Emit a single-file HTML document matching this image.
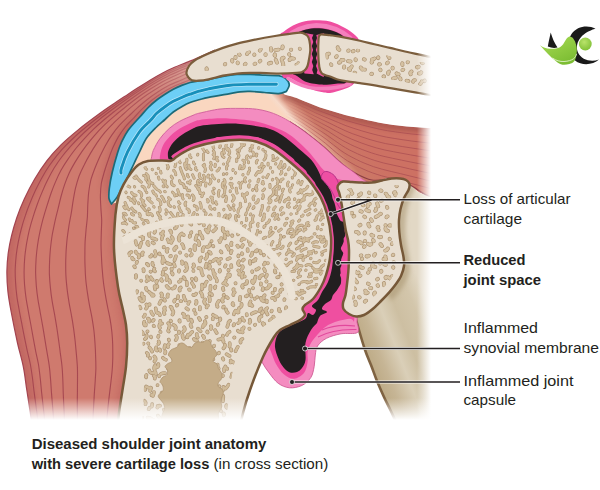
<!DOCTYPE html>
<html><head><meta charset="utf-8"><title>Diseased shoulder joint anatomy</title>
<style>html,body{margin:0;padding:0;background:#fff}svg{display:block}</style></head>
<body><svg width="600" height="490" viewBox="0 0 600 490">
<defs>
<linearGradient id="gDel" gradientUnits="userSpaceOnUse" x1="200" y1="60" x2="120" y2="120">
<stop offset="0" stop-color="#efcabe"/><stop offset="0.3" stop-color="#e2aa9d"/><stop offset="0.65" stop-color="#d68a7e"/><stop offset="1" stop-color="#cf7a6e"/></linearGradient>
<linearGradient id="gDStr" gradientUnits="userSpaceOnUse" x1="195" y1="62" x2="110" y2="130">
<stop offset="0" stop-color="#a3434e" stop-opacity="0.3"/><stop offset="1" stop-color="#a3434e" stop-opacity="0.9"/></linearGradient>
<linearGradient id="gSup" gradientUnits="userSpaceOnUse" x1="262" y1="118" x2="307" y2="78.4">
<stop offset="0" stop-color="#fad7c0"/><stop offset="0.29" stop-color="#fad7c0"/><stop offset="0.37" stop-color="#f7dbca"/><stop offset="0.47" stop-color="#e0a18d"/><stop offset="0.62" stop-color="#cb7866"/><stop offset="1" stop-color="#cd7163"/></linearGradient>
<linearGradient id="gStr" gradientUnits="userSpaceOnUse" x1="285" y1="0" x2="330" y2="0">
<stop offset="0" stop-color="#a5484f" stop-opacity="0"/><stop offset="1" stop-color="#a5484f" stop-opacity="0.7"/></linearGradient>
<linearGradient id="gScap" gradientUnits="userSpaceOnUse" x1="362" y1="352" x2="436" y2="323">
<stop offset="0" stop-color="#bba882"/><stop offset="0.2" stop-color="#c6b595"/><stop offset="0.42" stop-color="#dacfb8"/><stop offset="0.6" stop-color="#cdbfa2"/><stop offset="0.82" stop-color="#d3c6ab"/><stop offset="1" stop-color="#e2d8c5"/></linearGradient>
<linearGradient id="gFadeR" gradientUnits="userSpaceOnUse" x1="417" y1="0" x2="431" y2="0">
<stop offset="0" stop-color="#fff" stop-opacity="0"/><stop offset="1" stop-color="#fff" stop-opacity="1"/></linearGradient>
<linearGradient id="gFadeB" gradientUnits="userSpaceOnUse" x1="0" y1="398" x2="0" y2="420">
<stop offset="0" stop-color="#fff" stop-opacity="0"/><stop offset="1" stop-color="#fff" stop-opacity="1"/></linearGradient>
<radialGradient id="gBall" cx="0.42" cy="0.35" r="0.7"><stop offset="0" stop-color="#b9e36a"/><stop offset="1" stop-color="#7fbf35"/></radialGradient>
<linearGradient id="gLeaf" x1="0" y1="0" x2="0.6" y2="1"><stop offset="0" stop-color="#a9dc55"/><stop offset="1" stop-color="#7cbd33"/></linearGradient>
<filter id="bl4" x="-20%" y="-20%" width="140%" height="140%"><feGaussianBlur stdDeviation="4"/></filter>
<filter id="bl2" x="-20%" y="-20%" width="140%" height="140%"><feGaussianBlur stdDeviation="2"/></filter>
<clipPath id="cDel"><path d="M215.0 50.0C211.9 51.4 201.2 56.3 196.5 58.4C191.8 60.5 190.4 60.9 186.7 62.4C183.0 63.9 178.6 65.5 174.5 67.3C170.4 69.1 166.3 71.0 162.2 73.2C158.1 75.4 154.2 77.6 150.0 80.2C145.8 82.8 140.9 85.9 136.7 88.6C132.4 91.3 128.6 93.9 124.5 96.6C120.4 99.3 116.3 102.0 112.2 104.8C108.1 107.6 105.6 109.2 100.0 113.3C94.4 117.4 85.0 124.3 78.5 129.6C72.0 134.9 66.2 139.7 61.0 144.9C55.8 150.1 51.4 154.9 47.0 160.6C42.6 166.3 38.5 172.6 34.7 179.0C30.9 185.4 27.3 192.5 24.3 199.0C21.3 205.5 18.8 211.8 16.7 218.0C14.6 224.2 12.9 230.2 11.5 236.0C10.1 241.8 9.1 246.9 8.3 252.7C7.5 258.5 7.0 264.6 6.9 271.0C6.8 277.4 7.2 284.6 7.9 291.4C8.6 298.2 9.6 303.4 11.2 312.0C12.8 320.6 15.5 333.9 17.5 343.0C19.5 352.1 21.8 358.9 23.3 366.7C24.9 374.5 25.6 382.3 26.8 390.0C28.0 397.7 29.3 406.0 30.3 413.0C31.3 420.0 32.5 428.8 33.0 432.0L122.0 432.0C122.3 428.8 123.2 420.0 124.0 413.0C124.8 406.0 125.8 397.7 127.0 390.0C128.2 382.3 130.2 374.5 131.0 366.7C131.8 358.9 132.0 349.9 132.0 343.0C132.0 336.1 131.7 330.5 131.0 325.0C130.3 319.5 129.2 317.0 128.0 310.0C126.8 303.0 125.3 293.5 124.0 283.0C122.7 272.5 120.5 256.7 120.0 247.0C119.5 237.3 121.2 232.8 121.0 225.0C120.8 217.2 120.5 206.1 119.0 200.0C117.5 193.9 113.1 193.2 112.0 188.5C110.9 183.8 111.4 177.9 112.3 172.0C113.2 166.1 116.0 157.9 117.5 153.0C119.0 148.1 119.7 146.2 121.4 142.5C123.2 138.8 124.9 134.8 128.0 130.5C131.1 126.2 136.6 120.5 140.0 116.7C143.4 112.9 145.5 110.3 148.3 107.5C151.1 104.7 153.9 102.2 156.7 100.0C159.5 97.8 162.2 96.0 165.0 94.2C167.8 92.4 170.5 90.7 173.3 89.2C176.1 87.7 178.9 86.5 181.7 85.4C184.5 84.3 185.3 84.2 190.0 82.5C194.7 80.8 202.5 77.1 210.0 75.0C217.5 72.9 230.8 70.8 235.0 70.0Z"/></clipPath>
<clipPath id="cSup"><path d="M111.5 204.0C112.5 202.8 114.8 200.8 117.4 196.6C120.0 192.3 124.3 183.9 127.0 178.5C129.7 173.1 131.6 168.6 133.8 164.0C136.0 159.4 137.9 155.3 140.0 151.0C142.1 146.7 143.9 141.9 146.6 138.0C149.3 134.1 152.9 130.6 156.0 127.5C159.1 124.4 162.1 122.1 165.0 119.5C167.9 116.9 170.5 114.1 173.3 112.0C176.1 109.9 178.9 108.3 181.7 106.7C184.5 105.1 186.9 103.8 190.0 102.5C193.1 101.2 193.3 101.1 200.0 99.0C206.7 96.9 221.7 91.8 230.0 90.0C238.3 88.2 241.7 88.0 250.0 88.0C258.3 88.0 274.3 89.0 280.0 90.0C285.7 91.0 282.3 93.2 284.3 94.3C286.3 95.4 289.4 95.7 292.0 96.6C294.6 97.5 297.0 98.3 300.0 99.5C303.0 100.7 306.7 102.2 310.0 103.5C313.3 104.8 316.7 106.3 320.0 107.5C323.3 108.7 326.7 109.5 330.0 110.5C333.3 111.5 336.7 112.5 340.0 113.5C343.3 114.5 346.7 115.4 350.0 116.2C353.3 117.0 355.8 117.6 360.0 118.5C364.2 119.4 370.6 120.9 375.0 121.8C379.4 122.7 382.5 123.3 386.7 124.0C390.9 124.7 395.6 125.3 400.0 125.8C404.4 126.3 408.7 126.7 413.3 127.1C417.9 127.5 422.2 127.7 427.5 128.0C432.8 128.3 442.1 128.6 445.0 128.7L445.0 200.0C442.1 199.2 431.9 196.7 427.5 195.4C423.1 194.1 421.5 193.9 418.5 192.0C415.5 190.1 411.8 186.2 409.5 184.0C407.2 181.8 408.0 180.0 405.0 179.0C402.0 178.0 395.8 177.8 391.6 178.0C387.4 178.2 383.8 179.2 380.0 180.0C376.2 180.8 372.0 183.2 369.0 183.0C366.0 182.8 364.6 180.8 362.0 179.0C359.4 177.2 357.2 174.8 353.5 172.0C349.8 169.2 345.0 166.2 340.0 162.0C335.0 157.8 329.1 151.6 323.6 146.8C318.1 142.0 312.6 137.6 307.0 133.4C301.4 129.2 295.6 125.0 290.0 121.7C284.4 118.4 278.9 115.5 273.4 113.4C267.8 111.3 262.3 110.0 256.7 109.2C251.1 108.4 246.1 108.4 240.0 108.4C233.9 108.4 226.7 108.2 220.0 109.0C213.3 109.8 204.5 112.0 200.0 113.0C195.5 114.0 196.4 113.9 193.0 115.3C189.6 116.7 183.8 119.0 179.8 121.2C175.8 123.4 172.5 125.6 169.2 128.5C165.9 131.4 162.7 134.8 160.0 138.5C157.3 142.2 154.8 146.8 153.3 150.4C151.8 154.0 152.4 155.9 151.0 160.0C149.6 164.1 148.5 168.3 145.0 175.0C141.5 181.7 132.5 195.8 130.0 200.0Z"/></clipPath>
<clipPath id="cHum"><path d="M173.6 159.4C174.1 159.0 174.7 158.1 176.6 156.8C178.5 155.5 181.7 153.3 184.8 151.7C187.9 150.1 189.5 148.7 195.0 147.0C200.5 145.3 210.5 142.7 218.0 141.5C225.5 140.3 233.6 139.8 240.0 139.8C246.4 139.9 251.1 140.2 256.7 141.8C262.3 143.4 267.8 145.9 273.4 149.3C278.9 152.7 285.0 157.9 290.0 162.0C295.0 166.1 299.8 170.3 303.5 174.0C307.2 177.7 309.1 180.0 312.0 184.0C314.9 188.0 318.5 193.0 321.0 198.0C323.5 203.0 325.3 207.5 327.0 214.0C328.7 220.5 330.5 229.7 331.0 237.0C331.5 244.3 330.8 251.7 330.0 258.0C329.2 264.3 327.5 270.2 326.0 275.0C324.5 279.8 323.2 283.0 321.0 287.0C318.8 291.0 315.7 296.0 313.0 299.0C310.3 302.0 306.8 303.3 305.0 305.0C303.2 306.7 302.5 307.3 302.5 309.0C302.5 310.7 305.4 313.2 305.0 315.0C304.6 316.8 302.5 318.3 300.0 320.0C297.5 321.7 293.3 323.3 290.0 325.0C286.7 326.7 282.7 328.0 280.0 330.0C277.3 332.0 276.8 332.5 274.0 337.0C271.2 341.5 267.0 348.2 263.0 357.0C259.0 365.8 253.3 380.7 250.0 390.0C246.7 399.3 244.8 406.0 243.0 413.0C241.2 420.0 239.7 428.8 239.0 432.0L117 432C117.3 428.8 118.1 420.0 119.0 413.0C119.9 406.0 121.3 397.7 122.5 390.0C123.7 382.3 125.2 374.5 126.0 366.7C126.8 358.9 127.2 349.9 127.2 343.0C127.2 336.1 126.7 330.5 126.0 325.0C125.3 319.5 124.3 316.3 123.0 310.0C121.7 303.7 119.5 297.2 118.0 287.0C116.5 276.8 114.4 260.6 114.0 248.6C113.6 236.6 114.7 223.7 115.4 215.0C116.2 206.3 117.1 201.7 118.5 196.6C119.9 191.5 121.4 188.5 123.6 184.4C125.8 180.3 129.1 175.3 131.7 172.0C134.2 168.7 136.2 166.3 138.9 164.5C141.6 162.7 144.1 161.7 148.0 161.0C151.9 160.3 158.6 160.5 162.3 160.5C166.0 160.5 168.1 161.2 170.0 161.0C171.9 160.8 173.0 159.7 173.6 159.4Z"/></clipPath>
<clipPath id="cSpg"><path d="M176.0 163.0C179.2 160.9 188.0 153.5 195.0 150.5C202.0 147.5 210.5 146.2 218.0 145.0C225.5 143.8 233.7 143.2 240.0 143.3C246.3 143.4 250.7 143.8 256.0 145.3C261.3 146.8 266.7 149.2 272.0 152.5C277.3 155.8 283.2 161.0 288.0 165.0C292.8 169.0 297.4 173.0 301.0 176.5C304.6 180.0 306.7 182.2 309.5 186.0C312.3 189.8 315.6 194.7 318.0 199.5C320.4 204.3 322.4 208.8 324.0 215.0C325.6 221.2 327.1 229.8 327.5 237.0C327.9 244.2 327.3 251.8 326.5 258.0C325.7 264.2 323.9 269.5 322.5 274.0C321.1 278.5 319.9 281.5 318.0 285.0C316.1 288.5 314.0 292.2 311.0 295.0C308.0 297.8 303.5 300.0 300.0 302.0C296.5 304.0 294.2 304.3 290.0 307.0C285.8 309.7 280.0 314.3 275.0 318.0C270.0 321.7 264.5 325.7 260.0 329.0C255.5 332.3 251.3 335.0 248.0 338.0C244.7 341.0 242.2 343.3 240.0 347.0C237.8 350.7 236.5 354.5 235.0 360.0C233.5 365.5 232.2 373.3 231.0 380.0C229.8 386.7 228.8 391.3 228.0 400.0C227.2 408.7 226.3 426.7 226.0 432.0L140 432C140.5 428.8 142.3 421.7 143.0 413.0C143.7 404.3 144.0 390.5 144.0 380.0C144.0 369.5 143.5 360.0 143.0 350.0C142.5 340.0 142.2 329.5 141.0 320.0C139.8 310.5 137.8 302.7 136.0 293.0C134.2 283.3 132.0 270.0 130.0 262.0C128.0 254.0 125.8 251.2 124.0 245.0C122.2 238.8 119.6 231.7 119.0 225.0C118.4 218.3 119.5 210.8 120.5 205.0C121.5 199.2 122.9 194.8 125.0 190.0C127.1 185.2 130.3 180.1 133.0 176.5C135.7 172.9 138.2 170.4 141.0 168.5C143.8 166.6 146.3 165.7 150.0 165.0C153.7 164.3 158.7 164.8 163.0 164.5C167.3 164.2 173.8 163.2 176.0 163.0Z"/></clipPath>
<clipPath id="cAcr"><path d="M200.0 69.5C199.5 68.2 206.2 65.6 212.0 63.0C217.8 60.4 227.8 56.2 235.0 54.0C242.2 51.8 247.5 51.1 255.0 49.5C262.5 47.9 273.2 45.7 280.0 44.5C286.8 43.3 292.5 42.4 296.0 42.5C299.5 42.6 300.0 43.1 301.0 45.0C302.0 46.9 302.2 51.2 302.0 54.0C301.8 56.8 301.2 60.1 300.0 62.0C298.8 63.9 298.3 64.8 295.0 65.5C291.7 66.2 286.7 65.9 280.0 66.0C273.3 66.1 262.5 65.9 255.0 66.0C247.5 66.1 241.7 65.8 235.0 66.5C228.3 67.2 220.8 70.0 215.0 70.5C209.2 71.0 200.5 70.8 200.0 69.5Z"/></clipPath>
<clipPath id="cClv"><path d="M326.0 44.0C327.6 42.1 331.0 43.0 335.0 43.5C339.0 44.0 342.5 45.2 350.0 47.0C357.5 48.8 370.8 51.8 380.0 54.0C389.2 56.2 396.7 58.1 405.0 60.0C413.3 61.9 425.8 61.2 430.0 65.5C434.2 69.8 434.2 83.2 430.0 86.0C425.8 88.8 413.3 83.4 405.0 82.0C396.7 80.6 389.2 79.2 380.0 77.5C370.8 75.8 357.5 73.5 350.0 72.0C342.5 70.5 338.7 69.7 335.0 68.5C331.3 67.3 329.6 67.2 328.0 65.0C326.4 62.8 325.8 58.5 325.5 55.0C325.2 51.5 324.4 45.9 326.0 44.0Z"/></clipPath>
<clipPath id="cGln"><path d="M344.0 193.0C344.4 191.1 346.0 189.2 349.0 188.5C352.0 187.8 356.8 189.2 362.0 189.0C367.2 188.8 374.5 187.7 380.0 187.0C385.5 186.3 391.7 184.9 395.0 185.0C398.3 185.1 399.8 185.3 400.0 187.5C400.2 189.7 397.2 194.2 396.0 198.0C394.8 201.8 393.2 205.5 392.5 210.0C391.8 214.5 391.5 220.0 391.5 225.0C391.5 230.0 391.8 234.7 392.5 240.0C393.2 245.3 395.4 252.3 396.0 257.0C396.6 261.7 396.8 264.3 396.0 268.0C395.2 271.7 393.3 275.5 391.0 279.0C388.7 282.5 385.2 285.8 382.0 289.0C378.8 292.2 375.2 295.2 372.0 298.0C368.8 300.8 365.8 304.2 363.0 306.0C360.2 307.8 357.0 308.7 355.0 308.5C353.0 308.3 351.2 307.6 351.0 305.0C350.8 302.4 352.8 297.2 353.5 293.0C354.2 288.8 354.6 284.7 355.0 280.0C355.4 275.3 355.9 270.8 356.0 265.0C356.1 259.2 356.0 251.2 355.5 245.0C355.0 238.8 353.9 233.5 353.0 228.0C352.1 222.5 351.1 216.7 350.0 212.0C348.9 207.3 347.5 203.2 346.5 200.0C345.5 196.8 343.6 194.9 344.0 193.0Z"/></clipPath>
<clipPath id="cCap"><path d="M150.5 161.0C150.6 160.6 150.8 160.2 151.3 158.4C151.8 156.6 151.9 153.7 153.3 150.4C154.8 147.1 157.3 142.2 160.0 138.5C162.7 134.8 165.9 131.4 169.2 128.5C172.5 125.6 175.8 123.4 179.8 121.2C183.8 119.0 189.6 116.7 193.0 115.3C196.4 113.9 195.5 114.0 200.0 113.0C204.5 112.0 213.3 109.8 220.0 109.0C226.7 108.2 233.9 108.4 240.0 108.4C246.1 108.4 251.1 108.4 256.7 109.2C262.3 110.0 267.8 111.3 273.4 113.4C278.9 115.5 284.4 118.4 290.0 121.7C295.6 125.0 301.4 129.2 307.0 133.4C312.6 137.6 318.1 142.0 323.6 146.8C329.1 151.6 335.0 157.8 340.0 162.0C345.0 166.2 349.8 169.2 353.5 172.0C357.2 174.8 358.9 177.0 362.0 179.0C365.1 181.0 370.3 183.2 372.0 184.0L372 200L358 300L357 322C357.1 323.8 360.2 330.5 357.5 332.5C354.8 334.5 346.2 332.8 341.0 333.8C335.8 334.8 330.4 336.3 326.5 338.3C322.6 340.3 319.4 343.2 317.5 346.0C315.6 348.8 315.9 351.6 315.3 355.0C314.8 358.4 314.9 362.6 314.2 366.4C313.4 370.2 312.9 374.4 310.8 377.6C308.7 380.8 305.4 383.8 301.8 385.5C298.2 387.2 293.3 388.2 289.4 387.8C285.5 387.4 281.6 385.8 278.2 383.3C274.8 380.8 271.8 376.4 269.2 373.0C266.6 369.6 264.4 366.5 262.5 363.0C260.6 359.5 258.8 353.8 258.0 352.0L275 330L200 250L155 165Z"/></clipPath>
<path id="bH" d="M202.7 148.4 q0.2 -0.4 -0.2 -0.5M213.7 148.2 q-1.2 -1.3 -0.2 -2.9M219.7 147.3 q1.5 -1.3 0.1 -2.7M227.4 150.1 q-2.2 -2.4 -1.2 -5.5M231.4 146.5 q0.8 -1.4 0.4 -2.9M240.1 148.5 q3.5 -2.7 0.8 -6.1M243.8 145.5 q1.3 -1.1 0.4 -2.6M252.2 147.9 q-1.1 -3.0 1.8 -4.5M258.6 148.3 q-0.0 -0.4 0.2 -0.7M204.5 151.4 q-0.9 -1.8 -2.1 -3.3M208.0 152.5 q-1.1 -0.6 -1.1 -1.8M214.3 154.9 q0.7 -2.3 -0.9 -4.0M224.3 153.2 q-0.7 -1.9 -1.0 -4.0M228.9 154.4 q2.0 -3.5 -1.1 -6.1M237.2 150.3 q-0.1 -0.1 -0.1 -0.2M239.3 151.1 q0.5 -1.1 -0.3 -1.9M250.0 150.8 q1.3 -1.0 0.2 -2.3M253.5 155.6 q1.5 -2.1 -0.7 -3.5M263.0 149.9 q0.1 -0.2 -0.0 -0.4M265.2 152.0 q0.1 -0.2 0.2 -0.4M190.9 157.6 q-1.6 -1.0 -1.1 -2.8M197.6 155.0 q0.1 -0.3 0.2 -0.7M203.5 159.9 q-0.1 -2.8 -0.0 -5.6M213.7 158.7 q1.9 -2.3 -0.5 -4.1M217.7 160.8 q-2.0 -1.5 -0.5 -3.5M223.9 157.4 q-2.8 -1.7 -1.9 -4.9M228.8 160.4 q-0.1 -1.6 1.0 -2.8M238.3 157.3 q1.5 -2.2 -0.7 -3.7M246.9 159.0 q-1.4 -1.9 0.6 -3.1M250.5 157.3 q0.0 -0.4 0.4 -0.3M256.5 155.9 q-0.4 -0.9 0.3 -1.7M264.1 159.9 q2.1 -2.1 1.8 -5.0M273.1 157.8 q0.3 -1.2 -0.1 -2.3M272.7 160.4 q3.4 -0.1 5.3 -2.8M168.4 167.3 q-1.6 -2.9 -1.6 -6.2M175.0 166.6 q1.1 -2.6 0.6 -5.3M180.2 162.6 q-2.0 -1.0 -0.9 -2.9M185.8 164.1 q1.4 -2.2 1.0 -4.8M194.6 164.0 q-1.2 -0.6 -1.1 -1.9M204.4 166.1 q0.5 -0.9 -0.1 -1.7M210.9 163.0 q-0.3 -0.3 -0.1 -0.6M215.0 166.5 q0.2 -1.1 0.3 -2.2M223.6 164.1 q0.0 -0.1 0.0 -0.2M227.3 162.8 q0.3 -1.2 1.4 -1.8M236.5 161.4 q0.6 -1.0 0.2 -2.2M244.2 163.4 q1.1 -2.3 -1.3 -3.2M248.5 162.6 q-0.2 -0.4 -0.0 -0.8M256.4 163.0 q-0.4 -1.7 1.0 -2.7M259.1 167.2 q3.2 -0.5 2.9 -3.7M268.1 165.0 q-0.1 -0.9 -0.0 -1.8M275.6 164.0 q0.0 -0.3 0.2 -0.5M278.4 167.0 q2.5 -2.3 3.0 -5.6M146.6 169.3 q-1.8 -0.6 -1.6 -2.5M152.4 169.6 q-0.2 -0.1 -0.2 -0.4M158.4 168.5 q0.1 -0.1 0.0 -0.2M167.7 168.8 q0.1 -0.3 -0.2 -0.4M173.9 170.9 q0.1 -0.3 -0.1 -0.6M181.8 172.1 q-1.0 -2.2 -1.6 -4.5M186.3 169.3 q-2.0 -2.7 -1.4 -6.0M190.9 169.5 q-2.8 -1.3 -2.0 -4.3M196.8 170.1 q-1.9 -0.6 -1.1 -2.4M204.9 171.5 q1.7 -3.8 -1.7 -6.1M211.7 169.8 q-2.8 -2.3 -0.3 -5.0M217.1 171.0 q1.7 -1.0 2.3 -2.8M226.6 169.0 q-0.6 -2.1 1.0 -3.5M233.0 170.4 q-0.1 -0.5 0.1 -0.9M239.5 168.8 q0.3 -1.5 0.7 -3.0M242.0 168.7 q2.5 -0.4 2.1 -3.0M249.4 168.3 q0.0 -0.1 0.1 -0.2M257.8 172.1 q3.5 0.8 4.4 -2.7M263.0 167.7 q0.4 -0.8 1.2 -1.3M270.4 168.0 q-0.0 -0.2 0.1 -0.4M279.2 168.1 q1.9 -0.7 1.9 -2.8M283.2 168.1 q2.4 -1.1 1.5 -3.6M288.4 169.6 q1.8 -1.0 1.8 -3.1M137.0 177.5 q-0.6 -0.7 -1.0 -1.4M146.0 178.2 q0.1 -2.5 -2.4 -2.8M148.3 178.4 q0.4 -3.0 -2.0 -4.8M156.3 173.7 q-0.0 -0.2 -0.2 -0.3M161.0 173.0 q-0.5 -0.8 -0.4 -1.7M171.4 176.7 q0.1 -0.3 -0.1 -0.5M175.8 174.7 q-0.0 -2.0 -1.3 -3.4M184.4 178.9 q-0.7 -2.8 -2.1 -5.3M188.4 176.9 q-1.2 -0.9 -1.0 -2.4M194.1 178.1 q-0.7 -1.6 -1.5 -3.2M201.1 178.4 q-2.7 -1.7 -1.4 -4.6M208.1 177.0 q-0.5 -1.0 0.4 -1.8M214.6 178.8 q-1.8 -1.5 -2.5 -3.7M223.5 174.5 q0.1 -0.3 -0.0 -0.6M226.6 173.9 q0.1 -0.1 0.2 -0.3M235.5 173.1 q-0.1 -0.2 0.1 -0.4M242.9 174.9 q0.1 -0.2 0.1 -0.5M248.0 173.9 q0.1 -2.0 1.5 -3.3M255.7 175.2 q1.0 -2.0 2.6 -3.5M263.1 177.2 q0.1 -0.1 0.0 -0.2M266.6 177.7 q0.7 -1.7 1.7 -3.2M272.6 172.2 q-0.1 -0.3 -0.0 -0.6M280.6 174.0 q1.8 -1.0 0.9 -2.8M285.3 174.7 q0.6 -0.0 0.6 -0.6M294.6 175.1 q2.2 -3.5 -1.1 -6.0M135.4 178.2 q-1.1 0.2 -1.6 -0.9M141.3 182.1 q-1.9 -1.4 -3.3 -3.3M146.3 180.0 q-0.2 -0.2 -0.4 -0.5M152.8 183.5 q-3.3 -0.5 -3.9 -3.8M159.0 179.1 q-0.3 -1.0 -0.6 -2.0M163.3 181.9 q0.4 -1.1 -0.5 -1.9M172.4 178.2 q0.1 -0.6 -0.5 -0.6M180.4 183.1 q-0.5 -1.2 -0.9 -2.4M187.7 182.6 q0.1 -0.2 -0.0 -0.4M189.9 183.7 q-0.9 -1.6 0.5 -2.9M198.8 184.4 q-2.3 -1.7 -0.6 -4.0M203.2 181.5 q2.9 -2.9 0.4 -6.2M209.6 184.0 q2.3 -2.0 0.7 -4.7M218.5 181.1 q0.2 -0.4 0.2 -0.9M224.5 184.0 q1.2 -2.3 -0.3 -4.4M230.9 178.7 q0.2 -0.4 0.6 -0.5M238.9 182.9 q-0.1 -0.1 -0.0 -0.2M245.4 181.9 q-1.7 -2.0 -0.1 -4.1M249.8 181.2 q-0.1 -0.3 0.1 -0.4M258.0 181.9 q0.3 -1.3 0.8 -2.5M262.2 183.5 q1.1 -0.7 0.7 -2.0M272.4 180.0 q0.2 -0.3 0.3 -0.6M277.4 183.5 q1.8 -3.0 -1.0 -5.1M280.7 181.7 q-0.2 -2.5 2.3 -2.8M292.4 177.9 q-0.0 -0.3 -0.1 -0.6M297.8 183.0 q-0.1 -1.3 0.9 -2.3M301.2 182.9 q0.9 -0.4 1.0 -1.3M129.7 187.0 q-1.6 -0.9 -3.4 -1.6M134.6 186.9 q-0.2 -0.1 -0.2 -0.3M145.3 190.4 q0.1 -3.4 -3.2 -4.2M148.7 187.0 q2.0 -3.0 -1.2 -4.9M157.2 189.6 q-2.0 -1.6 -3.4 -3.7M163.6 186.7 q-0.5 -0.2 -0.4 -0.7M167.1 186.8 q-3.1 -2.3 -1.6 -5.9M174.2 185.7 q-3.3 -0.9 -2.6 -4.3M184.3 187.4 q0.0 -3.7 -3.6 -4.3M186.3 188.0 q-0.1 -0.2 0.1 -0.3M198.3 189.6 q-0.7 -2.4 -2.5 -4.0M200.4 185.1 q0.0 -1.3 0.5 -2.6M205.7 186.1 q-0.2 -1.5 0.4 -3.0M214.2 188.6 q-0.2 -0.2 -0.3 -0.4M223.1 187.7 q-1.6 -2.5 -0.0 -5.1M230.1 184.1 q0.4 -0.3 0.1 -0.7M232.3 187.9 q-1.5 -1.9 -0.3 -4.0M240.5 188.1 q-1.0 -3.5 1.7 -6.0M249.0 187.0 q-0.9 -1.1 0.1 -2.1M255.5 188.5 q0.3 -1.7 1.3 -3.1M263.3 183.9 q-0.1 -0.2 -0.0 -0.3M270.0 187.3 q0.1 -1.4 -0.1 -2.7M274.0 188.9 q1.2 -2.3 3.6 -3.2M278.9 188.9 q1.0 -1.0 0.6 -2.4M287.8 185.9 q-0.9 -2.1 0.5 -3.8M292.5 185.1 q0.0 -0.2 0.1 -0.3M300.9 184.6 q0.3 -0.4 0.1 -0.9M302.9 190.5 q3.5 -0.8 4.9 -4.2M126.1 192.6 q-0.2 -0.2 -0.3 -0.5M136.0 195.2 q-3.1 -0.0 -4.5 -2.7M141.6 196.1 q0.5 -3.4 -2.6 -4.7M146.8 192.6 q-0.1 -0.3 -0.4 -0.3M154.1 193.6 q-0.8 -1.2 -1.3 -2.5M160.4 192.1 q-0.4 -1.4 -1.8 -1.7M165.2 191.8 q-0.4 0.0 -0.5 -0.3M174.8 195.9 q-0.3 -2.4 -2.3 -3.7M179.9 195.0 q-1.6 -2.4 -2.2 -5.2M187.8 190.6 q-0.3 -0.3 -0.4 -0.8M189.7 190.7 q-0.2 -0.2 -0.3 -0.4M200.1 193.4 q-0.4 -2.6 -1.2 -5.1M203.6 193.4 q0.1 -0.1 0.0 -0.3M213.9 193.6 q-1.0 -1.0 -1.1 -2.5M218.9 196.2 q-1.1 -2.8 0.2 -5.6M224.7 192.5 q-0.3 -3.0 0.9 -5.7M230.3 191.6 q-0.2 -0.3 -0.1 -0.7M237.1 193.0 q-1.1 -2.2 -0.8 -4.7M246.7 194.5 q1.1 -0.7 0.5 -1.8M252.6 190.2 q0.3 -0.3 0.4 -0.8M256.6 190.7 q0.6 -1.2 -0.1 -2.3M262.8 190.7 q1.1 -0.7 1.7 -1.7M272.1 195.5 q2.7 -2.6 0.9 -5.9M276.1 194.6 q0.3 -1.9 0.1 -3.7M282.6 191.3 q-0.5 -1.5 0.9 -2.1M290.2 191.9 q-1.8 -2.6 1.0 -4.1M298.0 193.3 q2.6 -0.8 2.6 -3.5M301.8 193.0 q-0.2 -3.4 3.2 -3.5M309.4 195.1 q4.5 -0.4 3.8 -4.8M130.5 200.3 q-0.1 -2.3 -2.3 -2.9M135.4 200.8 q-1.6 -1.3 -1.5 -3.3M143.7 200.9 q-1.7 -0.4 -2.6 -1.9M149.8 198.3 q-0.1 -0.4 -0.6 -0.4M156.5 196.1 q-0.4 -1.2 -1.4 -2.1M164.5 201.6 q-0.8 -3.0 -2.9 -5.3M170.4 199.4 q-1.1 -0.8 -1.9 -1.8M177.0 195.6 q0.0 -0.5 -0.4 -0.6M183.1 198.9 q-1.3 -2.0 -0.6 -4.3M189.5 197.8 q0.0 -2.6 -2.5 -2.7M193.2 200.5 q2.1 -3.1 -0.8 -5.5M201.8 196.6 q1.4 -2.0 -0.5 -3.5M211.0 197.4 q-0.2 -0.1 -0.1 -0.3M212.4 199.5 q-1.0 -1.1 -0.1 -2.2M222.9 196.7 q-0.2 -1.7 1.2 -2.5M225.6 201.4 q1.5 -2.4 0.4 -5.1M232.5 201.2 q3.2 -3.0 0.2 -6.2M242.6 195.7 q0.5 -0.9 -0.2 -1.7M245.2 199.3 q-2.2 -3.4 1.2 -5.7M253.6 199.7 q-1.2 -2.1 0.5 -3.7M262.5 198.5 q1.4 -1.7 0.5 -3.6M269.9 201.1 q-1.8 -2.4 0.6 -4.3M275.6 200.4 q2.7 -0.9 2.6 -3.7M281.0 198.2 q0.1 -1.9 1.1 -3.5M288.4 198.1 q0.1 -0.1 0.3 -0.2M294.5 199.5 q0.4 -0.3 0.2 -0.7M301.2 200.1 q3.6 -0.9 3.1 -4.6M304.6 196.0 q1.5 -2.1 4.0 -1.5M313.6 201.4 q0.6 -2.9 3.5 -3.5M127.5 208.0 q-1.3 -2.7 -2.4 -5.4M134.5 203.5 q-1.3 -2.2 -3.1 -3.9M138.8 203.6 q-0.3 -0.3 -0.5 -0.8M145.0 205.7 q-1.3 -1.9 -2.7 -3.6M152.1 203.0 q-2.4 -2.2 -4.6 -4.6M160.8 204.6 q0.4 -3.8 -3.1 -5.4M168.1 202.0 q-0.2 -0.0 -0.2 -0.2M170.6 206.5 q-3.7 -2.2 -1.7 -6.0M179.9 203.5 q-1.1 -0.5 -1.3 -1.8M185.6 205.7 q-1.2 -1.8 0.1 -3.5M194.4 205.9 q-0.1 -0.2 -0.1 -0.3M201.1 208.0 q0.4 -2.8 -1.0 -5.4M207.9 201.9 q0.8 -1.4 -0.5 -2.3M213.1 203.0 q-1.0 -0.7 -1.0 -1.9M216.7 204.2 q-1.3 -0.9 -0.8 -2.3M225.8 201.5 q-0.5 -0.9 0.0 -1.8M233.8 205.4 q-0.2 -0.2 -0.0 -0.5M240.4 206.6 q-0.1 -1.6 -0.1 -3.3M245.4 201.6 q0.0 -0.3 0.0 -0.7M249.1 206.3 q1.1 -0.9 0.6 -2.3M255.8 203.0 q2.6 -0.6 2.4 -3.2M262.2 205.8 q0.1 -0.3 0.4 -0.3M268.8 202.9 q2.5 -0.2 2.1 -2.7M279.6 201.9 q-0.0 -1.0 0.7 -1.7M284.3 201.7 q1.7 -3.1 5.1 -2.2M287.5 206.6 q-0.3 -2.2 1.6 -3.4M297.2 202.3 q1.2 -0.7 1.5 -2.0M300.8 202.0 q1.0 -2.2 3.4 -2.1M309.0 205.9 q1.2 -3.1 4.5 -3.2M314.6 205.3 q0.0 -1.0 0.7 -1.7M125.2 208.7 q-1.0 -0.9 -1.4 -2.1M128.9 209.6 q-1.5 -1.5 -3.0 -2.8M135.8 212.0 q-2.8 -1.2 -4.0 -3.9M145.4 210.5 q-1.9 -2.2 -3.8 -4.5M149.4 209.4 q-0.5 -0.1 -0.6 -0.6M154.1 207.1 q-0.4 -0.1 -0.4 -0.6M159.8 211.6 q0.8 -2.3 -0.4 -4.4M167.3 211.8 q-0.6 -0.9 -1.2 -1.9M174.4 207.2 q0.0 -0.4 -0.3 -0.5M181.3 211.8 q-1.8 -2.3 -2.4 -5.1M189.2 212.5 q0.7 -2.8 -2.1 -3.6M197.1 209.9 q0.7 -2.1 -0.9 -3.6M204.0 210.8 q0.3 -0.3 0.0 -0.6M211.5 209.1 q-2.2 -0.8 -1.5 -3.0M214.6 209.4 q0.3 -0.4 0.1 -0.9M223.8 209.9 q-0.1 -0.4 0.1 -0.6M230.1 209.6 q-0.4 -2.2 -1.9 -3.8M234.2 210.3 q-0.3 -1.6 -1.5 -2.6M238.0 212.2 q-0.0 -3.5 2.8 -5.6M247.4 210.1 q0.2 -1.1 0.8 -2.1M253.0 208.5 q1.1 -0.6 0.9 -1.8M261.0 211.7 q1.0 -2.3 1.5 -4.8M267.9 210.2 q-0.4 -1.8 1.0 -3.0M273.7 209.8 q-0.1 -1.9 1.5 -2.9M280.5 210.1 q0.2 -1.6 1.6 -2.5M288.8 207.2 q0.2 -0.1 0.4 -0.2M294.4 207.7 q1.5 -0.3 2.1 -1.7M298.0 210.1 q2.5 -1.4 2.0 -4.2M305.2 211.4 q2.3 -1.3 4.7 -2.4M315.2 210.2 q0.3 -0.2 0.6 -0.4M319.1 212.9 q2.5 -0.6 3.0 -3.2M126.2 214.8 q-0.9 -1.8 -2.8 -1.4M133.5 215.1 q-1.6 -0.0 -2.0 -1.6M139.9 216.6 q0.8 -1.8 -0.7 -3.1M148.8 214.8 q-2.5 -1.0 -1.3 -3.4M152.5 215.6 q-1.9 -3.5 -5.2 -1.3M160.4 216.7 q-2.1 -1.6 -2.9 -4.0M166.0 214.1 q-0.1 -0.2 -0.1 -0.5M174.2 217.4 q-1.9 -2.3 -3.6 -4.7M178.8 217.4 q-1.9 -1.7 -0.9 -4.1M185.5 219.7 q-3.4 -1.5 -2.4 -5.1M193.8 218.6 q-2.1 -3.1 0.3 -5.9M197.5 214.8 q-0.1 -0.1 -0.3 -0.2M205.5 214.8 q0.7 -0.8 0.4 -1.8M210.8 216.5 q0.5 -0.9 -0.2 -1.6M218.6 217.7 q0.8 -2.1 0.3 -4.3M224.3 219.3 q-1.0 -2.7 1.5 -4.2M229.5 217.2 q1.1 -1.0 0.5 -2.4M238.6 216.6 q-0.0 -0.4 0.2 -0.7M245.5 214.8 q0.6 -0.9 0.8 -1.9M250.3 214.7 q0.3 -0.3 0.4 -0.7M260.1 215.2 q0.9 -0.7 0.5 -1.8M262.6 219.4 q1.5 -2.5 1.7 -5.3M272.3 215.9 q0.4 -2.0 2.4 -2.6M275.7 218.4 q0.0 -2.3 2.0 -3.5M281.4 214.8 q0.4 -1.9 2.4 -1.9M290.9 214.1 q0.2 0.1 0.3 -0.1M296.5 213.5 q0.2 -0.3 0.5 -0.5M301.4 216.3 q1.3 0.0 1.7 -1.2M307.7 214.9 q1.3 -0.1 2.1 -1.2M316.1 218.3 q0.5 -1.2 1.1 -2.4M321.1 215.0 q1.4 -0.3 2.6 -1.1M125.6 220.1 q-2.0 -1.2 -2.2 -3.5M132.0 220.6 q-2.1 0.5 -2.7 -1.6M135.5 222.9 q-2.0 0.6 -2.9 -1.3M143.5 220.2 q-1.1 -0.0 -1.6 -1.0M148.1 222.6 q-0.1 -2.0 -2.1 -2.2M157.2 222.7 q-0.1 -0.3 -0.4 -0.6M163.1 221.7 q-2.6 -0.8 -3.3 -3.5M171.3 220.4 q-0.3 -1.2 -1.4 -1.7M176.6 218.1 q-0.2 -0.1 -0.2 -0.3M182.1 219.0 q-0.6 -1.1 -1.4 -2.0M189.8 221.0 q-0.6 -1.9 -0.0 -3.7M203.2 219.4 q-0.1 -0.2 0.1 -0.4M209.9 221.9 q-2.8 -3.0 -0.0 -6.1M216.1 220.3 q-0.1 -0.4 -0.1 -0.9M225.1 223.7 q-0.6 -2.6 -2.5 -4.6M228.0 220.1 q-1.7 -2.0 -0.1 -4.1M236.5 220.5 q-1.6 -2.4 -0.6 -5.0M241.6 223.1 q-0.0 -0.2 0.0 -0.5M246.4 220.5 q0.5 -1.1 0.1 -2.3M253.0 222.1 q-1.2 -3.2 0.4 -6.2M262.3 220.5 q2.3 -1.3 1.9 -3.9M266.5 223.4 q2.5 -0.8 3.0 -3.4M274.9 219.2 q0.7 -1.7 2.5 -1.8M278.5 219.4 q0.1 -0.2 0.3 -0.3M286.5 218.8 q0.5 0.0 0.8 -0.4M291.1 222.0 q0.9 -0.6 1.9 -1.0M298.6 221.2 q0.7 -0.4 1.1 -1.2M308.0 222.8 q0.1 -0.0 0.1 -0.2M315.0 220.3 q1.5 -0.4 1.6 -1.9M320.6 220.0 q1.2 -2.9 4.4 -2.8M126.7 224.0 q-1.9 -1.8 -4.3 -0.7M133.7 228.4 q-0.1 -0.2 -0.2 -0.3M137.9 227.8 q-0.3 -1.7 -2.0 -1.4M143.9 223.9 q-0.2 -0.5 -0.6 -0.4M154.7 226.9 q-0.9 -1.2 -1.9 -2.3M157.1 222.8 q3.2 1.4 2.8 4.9M233.9 227.7 q-1.7 -1.7 0.1 -3.3M236.5 227.4 q-0.1 -0.3 0.0 -0.7M245.1 225.9 q0.1 -0.2 -0.0 -0.3M250.7 226.9 q-1.6 -3.6 1.7 -5.6M257.9 226.2 q-1.0 -1.5 0.2 -2.7M264.0 227.4 q-0.3 -1.3 1.0 -1.7M270.7 228.5 q0.3 -0.4 0.2 -0.9M275.4 228.3 q0.3 -0.4 0.4 -0.8M284.8 225.3 q-0.2 -2.0 1.8 -2.1M290.5 225.8 q0.7 -1.4 1.9 -2.4M296.9 228.2 q1.6 -3.4 5.3 -3.0M303.9 227.5 q3.1 -1.2 2.9 -4.5M308.5 225.7 q0.0 -0.4 0.4 -0.4M317.3 228.8 q0.7 -0.9 0.5 -2.1M322.6 224.6 q-0.0 -0.1 0.1 -0.2M124.4 232.1 q-0.7 -0.9 -1.6 -1.6M130.4 233.7 q-0.1 -0.3 -0.4 -0.3M138.4 230.2 q-0.7 -1.2 -1.9 -1.6M143.0 230.4 q-1.5 1.1 -2.3 2.7M244.4 232.3 q0.4 -3.0 -0.8 -5.8M248.4 232.6 q1.5 -1.2 0.6 -2.9M256.1 235.3 q1.6 -2.2 1.6 -5.0M260.2 232.3 q0.1 -0.2 0.4 -0.2M269.7 233.0 q-0.3 -1.7 1.3 -2.4M270.4 235.2 q1.6 -1.1 2.7 -2.7M278.7 231.1 q1.3 -0.8 2.5 -1.9M287.6 233.0 q0.5 -4.1 4.7 -3.9M290.1 233.6 q3.4 0.6 4.7 -2.6M296.3 233.8 q1.1 -3.2 4.4 -4.1M303.9 231.0 q0.4 -1.6 2.0 -1.8M314.2 233.9 q0.4 0.3 0.7 -0.1M321.0 229.7 q0.2 -0.1 0.3 -0.1M129.1 237.2 q-2.6 2.3 -4.9 -0.3M133.9 236.1 q-2.3 0.1 -3.6 -1.7M248.9 236.9 q1.6 -1.7 0.9 -3.8M257.1 240.3 q-0.0 -0.2 0.2 -0.2M263.4 238.5 q0.9 -0.9 2.2 -1.2M269.0 236.2 q0.0 -0.4 0.4 -0.6M280.0 239.9 q1.8 -2.2 0.6 -4.7M283.8 236.9 q0.2 -0.3 0.5 -0.4M291.3 236.9 q3.0 -0.2 3.0 -3.2M298.7 239.1 q0.7 -1.5 2.3 -1.7M300.4 240.0 q3.2 1.3 4.3 -2.0M306.4 238.9 q3.3 0.7 5.6 -1.8M317.4 236.7 q1.8 1.2 3.2 -0.4M320.6 240.2 q0.5 -2.6 3.1 -3.2M258.4 244.4 q0.2 -2.1 1.6 -3.7M266.1 245.9 q0.1 -0.3 0.3 -0.2M271.3 245.0 q0.2 -1.9 1.5 -3.3M277.2 246.1 q3.1 -0.5 2.4 -3.6M288.6 246.0 q0.7 -1.6 2.0 -2.9M296.0 243.6 q-0.2 -1.7 1.5 -1.8M300.1 246.2 q1.2 -0.9 2.6 -1.1M303.4 242.3 q2.1 -3.2 5.3 -1.1M312.7 242.9 q2.2 -1.4 4.7 -0.9M321.3 241.8 q2.9 0.8 3.5 -2.1M324.5 246.3 q2.4 -1.6 2.6 -4.5M271.2 251.3 q1.0 -1.7 2.9 -1.7M276.9 248.3 q0.2 -0.0 0.3 -0.1M280.8 248.5 q2.0 -0.3 2.3 -2.2M288.6 250.0 q0.3 -0.1 0.3 -0.4M296.5 248.9 q1.4 -1.2 3.2 -1.0M301.1 251.1 q2.2 -1.9 5.0 -2.5M308.6 251.9 q2.7 0.3 5.0 -1.2M313.8 246.3 q2.6 0.6 5.2 1.0M321.8 252.2 q2.0 -1.1 4.1 -1.9M274.2 258.4 q0.9 -3.4 4.3 -3.9M277.4 256.6 q0.8 -1.9 2.5 -3.1M286.4 254.4 q1.7 -3.9 5.7 -2.3M292.2 256.2 q1.8 -0.5 2.1 -2.4M297.1 256.8 q2.5 -1.1 5.3 -1.7M308.0 255.3 q1.0 -2.4 3.4 -1.5M315.6 252.8 q0.4 -0.2 0.7 -0.4M321.9 255.1 q0.1 -0.5 0.6 -0.5M277.5 262.3 q-0.0 0.3 0.2 0.3M285.9 259.4 q0.4 0.0 0.4 -0.4M288.7 263.8 q0.9 -1.6 2.8 -1.7M296.5 260.4 q0.9 -3.6 4.6 -2.9M303.1 260.3 q-0.5 -3.2 2.7 -3.6M310.5 258.6 q0.2 -0.3 0.5 -0.3M313.7 262.4 q3.7 1.3 5.9 -1.8M325.5 260.6 q0.3 -0.4 0.8 -0.2M280.3 264.3 q0.1 -0.3 0.4 -0.2M284.4 264.9 q1.7 1.7 3.2 -0.2M293.9 268.6 q2.6 -1.8 3.7 -4.8M296.6 268.1 q1.7 -3.5 5.3 -2.2M306.1 265.5 q2.5 -2.0 4.9 0.0M312.8 267.8 q2.2 3.0 5.8 1.8M320.3 268.8 q1.0 -2.8 3.8 -3.9M292.0 271.6 q1.4 0.1 2.7 -0.5M298.6 273.3 q-0.2 -2.5 2.0 -3.5M305.7 270.3 q0.2 0.1 0.3 -0.1M309.5 274.0 q1.2 0.5 2.0 -0.6M314.3 271.5 q3.1 1.0 6.1 -0.2M320.7 274.1 q1.4 -1.1 2.0 -2.7M293.4 280.3 q0.2 0.2 0.4 -0.0M297.9 277.4 q1.2 -0.9 2.6 -1.2M308.6 276.8 q1.2 -0.4 2.5 -0.5M314.6 278.7 q1.1 -0.3 2.3 -0.4M288.9 281.5 q-1.4 3.1 0.4 6.0M298.9 284.5 q0.4 -0.0 0.6 -0.4M301.9 282.0 q3.0 -1.4 5.6 0.8M306.8 281.5 q2.5 1.5 4.9 -0.3M316.3 284.5 q0.4 -0.1 0.6 0.2M292.7 291.5 q2.3 2.7 5.2 0.6M301.1 290.4 q0.8 0.5 1.7 0.1M307.8 288.1 q0.3 0.3 0.6 -0.0M310.0 287.0 q3.0 -0.4 6.0 -0.1M290.1 292.4 q1.8 1.0 3.9 0.5M298.2 293.8 q0.4 -0.1 0.8 -0.3M298.9 295.0 q2.6 -2.0 5.9 -2.7M295.7 298.7 q0.4 0.3 0.6 -0.1M301.9 298.1 q0.3 0.1 0.7 0.1"/>
<path id="bH2" d="M197.5 220.9 q0.2 0.2 -0.0 0.4M176.6 225.2 q0.8 2.5 -1.7 3.2M181.0 223.7 q0.7 0.5 0.7 1.3M190.2 223.7 q1.0 -0.1 1.1 0.9M198.7 221.7 q0.3 0.8 0.6 1.6M202.2 220.8 q1.2 2.2 1.7 4.6M209.6 226.1 q-1.6 1.9 -0.7 4.3M218.0 221.1 q-0.9 2.1 -2.4 3.8M140.4 233.3 q-0.3 0.7 -0.8 1.2M149.5 232.1 q-1.0 1.9 -0.1 3.8M155.1 230.7 q0.1 1.2 -0.7 2.0M163.1 231.6 q-0.2 1.9 -2.1 2.1M170.2 230.6 q1.2 0.9 1.1 2.4M181.8 233.5 q-0.9 0.5 -1.5 1.3M183.2 234.6 q0.5 0.0 0.6 0.5M191.3 232.2 q0.1 0.4 -0.3 0.6M199.7 231.8 q0.3 0.8 0.2 1.7M205.7 229.6 q0.9 1.6 2.2 2.8M216.1 228.4 q-1.3 1.6 -2.9 2.9M222.9 228.0 q-0.8 3.0 2.0 4.3M227.5 232.3 q-0.6 1.4 0.5 2.4M239.2 231.3 q-0.1 1.7 -1.2 3.0M138.6 234.0 q0.6 2.2 2.9 2.4M143.2 237.5 q-0.2 0.9 -0.2 1.8M152.2 238.3 q2.3 -0.1 4.1 1.3M163.1 235.5 q-1.2 1.6 -1.3 3.6M167.6 239.4 q1.0 1.2 1.0 2.7M171.7 237.0 q1.8 1.6 0.7 3.7M179.7 235.6 q-1.8 2.4 -0.4 5.0M189.9 235.5 q0.6 0.8 -0.2 1.3M196.8 235.5 q-1.0 2.0 -1.3 4.2M201.3 235.2 q1.3 1.4 1.3 3.3M211.6 241.0 q-0.0 0.1 -0.1 0.2M221.3 238.0 q0.3 2.4 -2.1 2.6M224.6 235.1 q0.2 1.6 0.3 3.2M232.1 235.4 q-0.1 0.4 0.3 0.5M244.7 238.8 q-2.4 -0.7 -3.2 1.7M250.1 239.5 q-1.3 0.7 -1.3 2.1M135.6 241.0 q0.1 2.0 1.0 3.7M141.3 242.7 q-0.9 2.2 -1.6 4.5M147.7 241.9 q-1.1 1.9 0.8 3.1M152.5 242.6 q0.8 0.3 1.4 0.8M163.8 246.9 q-0.2 0.2 -0.1 0.4M171.0 241.4 q-0.3 0.9 0.4 1.5M176.2 246.7 q-0.3 0.6 0.2 1.0M182.1 244.1 q1.6 1.7 1.6 4.0M195.0 245.2 q-0.6 1.8 -0.6 3.7M198.0 240.8 q1.8 1.8 1.1 4.3M210.0 244.2 q-0.4 2.7 -3.2 2.6M213.1 245.9 q-0.0 0.3 0.2 0.4M219.8 241.7 q-0.1 0.2 0.0 0.4M231.5 242.7 q-0.8 1.2 -0.1 2.4M237.3 245.6 q0.7 0.4 0.8 1.3M242.9 245.0 q-0.8 0.8 -1.0 1.9M251.8 242.6 q-1.7 0.4 -1.7 2.2M257.0 242.8 q-0.4 -0.0 -0.3 0.4M131.4 252.1 q-2.5 0.8 -2.6 3.4M135.7 251.6 q0.1 1.0 0.9 1.5M142.9 252.4 q-1.4 1.1 -0.5 2.6M155.1 251.0 q-0.0 0.6 0.2 1.3M159.4 253.4 q0.0 0.4 0.3 0.8M167.6 248.9 q-1.8 1.2 -0.5 2.9M175.0 247.8 q-1.2 1.0 -0.5 2.3M180.0 252.4 q0.0 0.1 0.1 0.2M190.3 249.8 q-0.2 0.2 -0.2 0.6M194.4 246.1 q1.2 1.9 0.5 3.9M203.9 247.1 q-1.6 1.8 -1.2 4.1M209.1 251.7 q1.5 0.4 1.7 2.0M220.7 251.3 q0.7 0.4 0.8 1.2M226.7 246.0 q1.7 1.4 1.9 3.7M231.6 250.9 q-0.6 1.1 -0.8 2.2M242.0 253.3 q0.6 0.5 0.1 1.0M247.6 249.2 q-0.0 0.9 0.1 1.8M257.0 250.2 q-0.2 1.4 -1.5 1.1M260.3 250.5 q-0.2 1.5 0.5 2.7M132.2 257.9 q-0.1 1.4 1.4 1.5M138.4 254.8 q1.6 1.2 0.3 2.7M151.6 255.2 q-0.1 1.4 -1.4 1.5M155.7 253.2 q0.4 1.8 -0.7 3.2M162.6 256.7 q0.7 2.2 2.0 4.2M170.9 255.9 q-0.6 -0.0 -0.7 0.5M175.9 256.3 q-0.7 2.1 -1.4 4.1M186.2 255.0 q0.5 0.1 0.4 0.6M191.7 254.1 q0.2 1.1 -0.9 1.4M201.4 257.5 q-2.5 1.2 -1.4 3.8M207.0 254.2 q0.8 2.8 -1.4 4.6M216.6 258.8 q-2.0 0.7 -3.5 2.2M221.0 258.8 q-2.0 0.5 -3.1 2.3M229.8 258.2 q-1.1 0.6 -2.3 1.0M238.4 255.5 q-0.2 0.4 -0.0 0.8M243.8 259.6 q-0.7 0.2 -1.0 0.9M252.3 252.6 q0.1 1.9 -1.3 3.1M255.6 259.0 q-0.6 0.7 -0.4 1.5M264.0 254.8 q-0.3 0.1 -0.2 0.5M270.6 256.9 q-0.5 -0.7 -1.3 -0.4M137.0 261.8 q-0.2 0.5 -0.4 1.1M146.8 263.9 q1.3 0.3 1.5 1.6M152.5 263.0 q-0.4 1.4 0.7 2.3M162.9 259.2 q-0.8 1.9 -0.3 3.9M167.1 262.9 q1.5 1.0 3.3 1.4M173.9 263.8 q0.6 1.2 0.9 2.6M181.9 261.4 q1.3 1.0 0.4 2.4M185.7 263.2 q1.3 1.5 0.6 3.3M193.6 264.4 q1.1 1.7 -0.5 2.8M206.5 263.7 q-0.4 1.9 -1.0 3.7M210.1 261.6 q-0.2 0.4 0.2 0.6M219.6 262.9 q-0.2 0.3 -0.2 0.7M225.6 265.3 q-0.2 0.7 -0.6 1.3M231.2 265.2 q-0.1 1.0 0.2 1.9M239.1 261.2 q-2.0 1.9 -0.2 3.9M250.0 261.1 q-0.3 1.4 0.2 2.6M254.3 260.1 q-0.8 0.4 -1.2 1.2M265.0 262.7 q0.1 1.3 -1.1 1.8M267.9 263.0 q0.0 0.2 -0.1 0.3M276.0 263.8 q-1.2 1.2 -0.1 2.6M134.2 266.3 q0.7 0.3 0.7 1.0M143.4 269.1 q0.5 1.0 0.2 2.2M150.5 271.6 q0.1 -0.0 0.2 0.1M154.3 268.7 q-1.0 1.7 0.7 2.6M166.0 268.5 q-0.7 1.1 -1.9 0.7M171.7 268.6 q-0.4 0.4 -0.0 0.8M179.0 270.3 q0.6 0.7 -0.1 1.3M187.0 266.8 q0.6 2.9 -1.9 4.3M193.4 270.7 q0.1 0.1 0.1 0.3M198.4 268.1 q3.2 0.0 3.2 3.3M209.4 265.2 q1.2 1.8 -0.3 3.4M213.0 270.2 q0.7 1.8 0.6 3.7M219.8 270.0 q0.6 0.9 -0.2 1.6M228.4 270.0 q-0.1 0.3 0.2 0.4M238.3 270.4 q2.1 1.7 0.9 4.1M242.5 266.1 q0.9 1.5 -0.5 2.6M252.2 271.3 q-0.1 0.4 0.1 0.7M258.8 268.2 q-1.0 1.1 -2.5 1.4M264.0 268.9 q0.8 1.0 1.0 2.2M274.9 270.4 q-0.4 1.2 0.5 2.0M279.6 267.2 q-0.6 0.1 -1.1 0.3M135.9 275.1 q0.6 1.3 -0.1 2.6M147.0 276.3 q-0.1 2.3 2.0 3.4M150.7 277.2 q0.9 1.4 1.9 2.6M162.8 271.7 q1.0 1.6 -0.3 2.9M165.6 275.1 q2.9 2.0 0.9 4.9M171.6 272.7 q1.3 0.4 1.0 1.8M183.6 277.3 q0.9 0.7 1.2 1.9M191.8 278.8 q0.3 0.1 0.3 0.3M195.7 278.3 q1.1 0.8 0.3 1.9M201.5 271.8 q0.3 1.9 1.3 3.4M208.8 276.5 q1.4 0.7 1.7 2.3M214.8 273.9 q-1.1 2.6 1.2 4.3M228.3 274.4 q0.7 2.5 -1.7 3.6M229.8 274.6 q0.2 0.7 -0.1 1.4M243.1 272.8 q-2.2 2.0 -1.1 4.7M244.5 276.3 q0.0 0.3 0.3 0.3M255.5 276.7 q-0.9 2.3 -1.1 4.7M262.7 275.1 q-2.7 0.5 -3.2 3.2M266.8 274.6 q0.2 1.4 -1.0 2.3M278.5 277.0 q-0.6 0.3 -1.3 0.3M282.9 272.8 q-2.0 -0.4 -2.3 1.6M141.1 280.5 q-0.0 0.1 0.1 0.2M146.5 281.0 q-0.0 0.1 0.1 0.2M157.1 280.8 q-1.3 0.6 -0.6 1.8M161.4 279.1 q-0.7 1.2 0.6 1.8M169.3 280.2 q0.9 1.1 0.8 2.5M180.7 279.5 q0.1 1.9 -1.7 2.3M186.7 281.9 q0.2 1.7 0.2 3.4M192.0 283.0 q0.4 0.8 0.9 1.5M202.0 284.7 q-0.1 1.1 0.8 1.7M206.7 281.6 q-1.7 1.9 -1.9 4.4M216.9 280.1 q-0.0 0.6 -0.1 1.3M223.4 283.3 q-0.0 0.1 -0.1 0.2M225.7 280.6 q-1.6 2.7 1.1 4.3M235.5 283.1 q0.1 0.2 0.1 0.4M247.0 281.1 q0.4 2.2 -1.7 3.0M252.4 280.6 q-0.8 1.7 0.8 2.6M260.9 283.4 q-0.2 0.6 0.0 1.1M266.6 281.3 q-0.1 0.2 -0.3 0.3M270.5 285.0 q0.1 0.7 -0.5 0.9M281.6 284.3 q-0.1 0.1 0.0 0.3M137.2 291.2 q-0.2 0.7 -0.5 1.4M145.9 287.8 q-0.0 1.5 1.0 2.5M154.6 286.1 q0.0 1.7 0.5 3.3M157.2 285.8 q-0.3 0.6 0.1 1.2M166.6 285.9 q1.0 1.4 2.4 2.5M175.1 286.4 q-0.5 2.1 -2.7 2.2M180.8 287.5 q-1.9 1.0 -1.1 3.0M189.1 289.5 q0.2 0.5 0.7 0.5M194.1 286.3 q0.1 0.4 -0.3 0.5M202.2 287.2 q0.4 1.0 -0.1 2.0M210.5 285.9 q-0.1 2.2 -0.2 4.3M215.3 286.4 q-1.0 0.7 -0.4 1.8M223.0 287.8 q-0.2 1.2 0.4 2.2M233.6 289.1 q-0.5 0.5 -0.1 1.1M242.6 285.1 q-0.9 1.2 0.1 2.4M249.3 289.9 q-0.3 1.0 0.1 2.0M253.2 288.1 q-0.2 0.0 -0.3 0.2M263.0 288.2 q0.5 1.0 -0.4 1.8M269.1 285.0 q0.2 3.1 -2.8 3.6M275.0 288.8 q-0.2 0.7 -0.2 1.4M282.3 289.4 q-2.2 0.3 -2.0 2.4M141.9 293.5 q-0.9 2.8 2.0 3.4M149.2 292.0 q2.1 1.4 3.0 3.7M152.9 294.5 q0.9 0.3 0.7 1.2M161.3 293.4 q1.4 1.4 0.3 3.1M168.0 294.4 q-0.8 1.1 -0.4 2.4M178.1 296.2 q0.1 0.9 -0.3 1.8M183.7 295.9 q0.4 2.4 1.8 4.5M196.1 293.6 q-0.8 2.0 -2.8 1.3M200.6 292.3 q2.0 1.7 1.8 4.3M209.7 293.4 q-0.2 0.1 -0.1 0.3M211.8 294.3 q0.2 0.4 0.2 0.8M223.8 294.8 q0.2 0.3 -0.1 0.5M226.5 297.1 q0.7 0.5 1.3 1.0M234.7 292.4 q-1.7 0.9 -1.3 2.7M247.3 295.5 q-0.4 1.0 -1.5 0.8M251.0 295.0 q0.1 0.8 0.3 1.5M257.3 297.1 q-0.1 0.2 -0.3 0.3M264.6 295.3 q-1.7 1.1 -0.8 2.9M272.6 292.6 q-0.2 0.2 0.1 0.4M278.4 295.3 q-0.8 1.4 -2.4 1.3M290.2 293.0 q-0.9 0.3 -0.6 1.2M139.4 298.0 q0.4 1.4 1.4 2.5M143.7 298.3 q0.8 2.4 -1.7 3.1M149.5 304.1 q-0.4 0.4 -0.0 0.8M160.9 300.7 q-0.8 1.5 -1.5 3.1M164.5 299.2 q-0.2 0.8 0.4 1.4M175.0 299.8 q-1.1 0.7 -0.7 1.8M180.6 301.2 q0.3 -0.1 0.6 0.0M189.4 301.9 q-1.2 0.6 -1.1 2.0M196.3 300.9 q0.7 1.6 -0.4 3.0M205.2 299.4 q-2.1 2.2 -0.0 4.3M209.2 296.8 q1.0 2.1 0.4 4.4M218.8 300.9 q-1.3 1.6 -2.0 3.6M223.3 298.1 q-1.9 1.5 -0.5 3.5M232.8 303.2 q-0.7 1.3 0.6 2.0M240.2 296.8 q-0.1 1.7 -0.4 3.5M250.5 301.4 q-1.1 1.7 -1.0 3.7M254.6 298.6 q-0.1 0.2 0.1 0.3M260.8 297.9 q0.3 2.7 2.9 3.4M266.8 300.6 q-0.4 0.8 -0.1 1.6M272.1 298.0 q2.3 -0.3 2.9 2.0M284.5 299.3 q-0.2 0.3 -0.2 0.6M139.8 306.7 q0.1 0.9 0.7 1.5M146.4 304.5 q1.6 2.2 -0.4 4.1M155.7 308.4 q0.5 1.9 0.8 3.7M164.9 307.5 q-0.9 0.3 -0.8 1.3M170.5 306.9 q1.8 0.4 1.3 2.2M177.4 304.9 q-0.1 0.4 -0.6 0.6M186.4 308.2 q0.7 0.7 1.6 1.3M194.3 309.7 q-0.3 0.3 -0.2 0.8M199.9 307.0 q-0.1 1.2 -0.1 2.4M207.9 305.5 q-1.5 0.4 -1.3 2.0M217.4 306.3 q-0.2 0.3 0.1 0.5M223.8 306.6 q-0.7 0.2 -0.7 1.0M226.0 309.5 q0.4 1.3 1.0 2.5M239.0 308.3 q-1.0 2.0 -0.5 4.1M241.5 304.0 q0.6 1.6 -0.7 2.8M251.4 304.6 q-0.2 1.2 1.0 1.3M261.3 308.5 q-1.8 0.7 -1.9 2.6M267.1 308.1 q-1.2 0.5 -1.3 1.9M271.8 310.6 q-0.0 0.5 -0.3 0.8M279.0 308.9 q-0.7 1.8 1.1 2.5M286.2 307.3 q-0.6 0.8 -0.1 1.6M144.9 314.6 q-0.1 1.3 -1.2 2.1M151.2 311.6 q0.2 2.0 1.8 3.2M157.1 312.9 q2.4 -0.1 2.8 2.3M165.0 310.4 q-1.9 1.5 -0.6 3.6M173.1 310.9 q0.7 2.0 -0.6 3.7M183.0 313.7 q2.2 1.1 1.3 3.4M188.1 316.4 q-0.5 0.7 0.2 1.3M195.4 313.2 q0.1 0.3 0.2 0.6M206.4 317.0 q-0.2 0.1 -0.1 0.3M213.1 314.8 q0.3 0.2 0.3 0.5M215.0 316.0 q1.2 0.2 1.8 1.2M227.4 312.3 q0.1 0.2 0.3 0.5M235.7 310.6 q-1.5 1.6 -1.9 3.7M237.0 311.1 q-0.4 0.9 0.5 1.4M246.7 314.1 q-0.0 0.6 0.1 1.2M255.8 312.1 q-2.2 0.4 -4.0 1.7M263.0 312.0 q-0.1 1.2 -1.3 1.0M265.3 310.0 q1.0 2.3 2.2 4.5M273.3 316.6 q0.3 0.5 0.6 1.0M144.3 321.6 q-1.1 2.0 0.3 3.7M147.9 318.6 q2.1 0.8 1.3 2.9M153.7 320.0 q-0.2 0.8 -1.0 0.9M160.3 320.8 q-0.5 2.3 1.8 2.8M170.7 320.6 q-0.2 0.4 0.3 0.6M179.6 320.2 q-0.5 0.7 0.1 1.4M186.8 317.5 q1.6 0.7 1.6 2.4M191.2 319.7 q0.7 0.9 0.9 2.0M198.8 317.9 q0.7 1.0 1.3 2.1M204.9 321.2 q1.6 2.9 -1.2 4.7M212.8 318.0 q-0.0 0.6 -0.0 1.2M220.1 318.5 q0.6 1.1 -0.4 1.9M230.0 320.7 q-0.9 0.7 -1.5 1.7M239.7 319.6 q1.0 2.5 -1.5 3.5M242.4 317.9 q0.0 1.9 1.7 2.8M249.8 319.8 q1.0 1.6 -0.2 3.1M261.4 316.3 q-3.2 1.3 -2.0 4.5M262.9 323.1 q0.3 0.5 -0.2 0.7M271.5 318.9 q-0.8 0.9 -1.7 1.7M145.8 324.3 q-0.1 0.5 -0.1 1.1M153.7 325.7 q0.3 0.2 0.3 0.5M160.7 323.3 q-2.3 1.9 -0.8 4.5M168.2 323.3 q2.4 2.0 0.7 4.7M173.5 324.9 q3.0 1.1 2.0 4.2M184.1 327.2 q1.7 2.6 -0.8 4.4M190.7 324.1 q-0.5 1.6 0.7 2.8M198.0 328.6 q1.3 1.3 2.6 2.6M204.8 323.4 q-1.9 1.4 -2.2 3.8M210.9 326.1 q0.9 1.4 0.1 2.8M218.3 324.0 q-0.6 0.3 -0.6 0.9M228.2 324.2 q-0.6 1.3 -0.9 2.7M234.2 324.0 q0.1 0.8 -0.6 1.3M243.7 327.3 q-0.1 1.6 -1.6 1.6M249.3 328.6 q0.0 0.2 0.2 0.4M255.2 324.6 q0.0 0.3 -0.3 0.4M264.0 323.7 q-0.8 1.5 0.8 2.1M141.3 331.3 q1.6 1.0 1.8 2.9M147.6 331.3 q-0.3 0.0 -0.3 0.3M158.5 335.7 q-0.1 0.6 -0.3 1.2M160.3 331.7 q0.3 0.1 0.3 0.3M168.2 330.4 q-0.2 0.7 0.5 1.1M178.9 331.6 q0.4 0.6 0.1 1.2M188.0 334.6 q-0.2 0.3 -0.1 0.7M192.2 331.9 q-1.5 1.0 -2.4 2.6M196.8 334.1 q-0.5 1.9 0.9 3.2M207.3 331.5 q-0.3 0.6 0.3 1.0M215.1 330.1 q0.8 1.5 1.6 2.9M222.9 335.6 q0.2 0.1 0.2 0.3M229.5 331.8 q-1.9 0.9 -2.6 3.0M237.9 330.7 q0.8 1.3 2.3 1.1M242.6 330.0 q-0.6 1.2 0.0 2.4M146.6 335.2 q0.6 2.5 -1.7 3.9M150.8 336.5 q-0.1 0.5 0.3 0.8M158.7 341.4 q0.9 1.4 -0.3 2.5M168.8 339.6 q0.1 0.3 0.2 0.7M176.2 335.7 q1.5 2.3 -0.4 4.4M182.5 335.0 q-0.2 2.2 1.2 3.9M186.8 336.6 q0.0 0.7 0.7 0.7M193.8 339.0 q1.1 1.8 3.2 1.6M203.0 335.8 q1.2 0.7 1.1 2.1M209.8 341.0 q-0.2 0.3 -0.1 0.6M221.5 338.4 q-1.4 1.1 -3.2 1.2M222.6 338.4 q0.2 1.8 1.0 3.5M234.4 337.4 q-0.1 0.1 -0.2 0.2M242.4 338.9 q-2.5 1.0 -1.8 3.7M143.4 343.6 q-0.1 0.1 -0.0 0.3M148.2 343.4 q0.2 0.1 0.2 0.3M156.1 347.4 q-1.2 1.9 0.8 3.1M165.0 345.2 q-0.5 1.5 -0.6 3.0M168.7 344.1 q-1.4 1.2 -0.8 2.9M179.4 345.2 q0.2 0.1 0.1 0.3M185.0 347.1 q-1.0 -0.1 -1.0 0.9M193.5 347.8 q-0.2 0.3 -0.2 0.7M202.6 342.5 q0.0 2.1 -2.0 2.8M209.0 346.9 q-1.0 2.2 -2.6 4.1M214.1 345.5 q0.0 0.4 -0.2 0.8M224.9 344.7 q0.3 2.2 -1.4 3.6M229.7 343.1 q0.2 1.8 -0.2 3.5M237.8 346.9 q-1.2 2.1 -2.2 4.3M146.8 352.9 q1.7 0.9 1.1 2.8M149.5 347.4 q1.7 1.8 2.6 4.1M159.4 349.3 q1.1 0.4 0.8 1.5M165.3 351.3 q0.3 1.1 -0.2 2.1M177.1 349.1 q-0.4 0.3 -0.1 0.7M184.7 354.1 q-0.2 0.1 -0.2 0.3M189.6 347.8 q0.0 2.4 -0.2 4.7M199.4 354.5 q-0.4 0.8 -0.5 1.7M203.0 352.4 q2.4 1.0 1.4 3.4M210.2 348.1 q-1.5 2.7 1.3 4.2M219.0 352.7 q0.0 0.6 -0.5 0.7M226.6 354.2 q1.3 1.2 3.0 1.7M230.9 349.1 q0.6 0.6 0.4 1.5M150.0 357.8 q0.0 0.3 0.1 0.6M154.4 356.5 q2.4 2.4 0.1 4.8M162.9 357.8 q1.1 1.6 3.0 2.0M172.9 354.1 q-2.0 2.7 0.8 4.6M179.2 357.7 q0.4 0.5 0.9 0.8M185.7 357.0 q0.2 1.7 1.9 1.7M191.2 358.2 q0.9 0.6 1.4 1.6M201.7 354.9 q1.1 2.6 -1.6 3.6M208.2 359.0 q-1.4 2.0 -3.3 0.5M212.6 356.4 q0.2 1.5 0.7 2.8M222.8 358.3 q0.3 0.6 0.5 1.3M230.8 360.5 q0.9 1.1 -0.2 1.9M155.2 365.2 q-1.7 2.1 -0.7 4.6M158.3 364.1 q0.7 3.0 -2.3 3.5M167.9 367.2 q-0.4 1.6 1.2 2.0M174.0 362.1 q-1.1 1.1 -0.9 2.6M184.6 363.6 q-1.3 1.4 0.1 2.7M190.1 364.0 q1.1 2.2 1.0 4.7M193.2 362.8 q-2.3 2.5 0.1 5.0M200.1 362.5 q2.1 1.2 1.1 3.5M212.1 364.8 q1.0 1.9 1.7 3.9M217.6 364.6 q-0.3 2.2 1.0 4.0M225.4 366.5 q-0.5 1.2 -1.3 2.2M232.9 361.9 q0.5 0.4 1.0 0.7M149.3 370.5 q0.8 3.3 4.0 2.3M155.2 371.6 q0.7 1.2 0.5 2.6M164.9 373.1 q-2.2 -0.2 -4.1 0.9M169.5 371.6 q0.9 1.5 0.1 3.0M180.1 372.1 q0.1 0.2 0.2 0.4M183.4 369.8 q-1.1 2.0 -0.1 4.0M195.4 369.7 q-1.6 0.6 -2.4 2.1M201.8 373.2 q-2.3 -0.6 -3.1 1.6M210.4 371.0 q-1.5 0.5 -1.5 2.2M212.3 373.4 q-0.0 0.2 -0.1 0.4M225.0 367.7 q-1.1 1.5 -0.9 3.4M226.8 368.4 q0.5 0.0 0.4 0.5M146.4 375.0 q-1.1 1.0 -0.3 2.3M153.8 375.8 q1.7 0.9 1.0 2.7M159.1 375.6 q0.0 0.3 0.1 0.7M168.6 378.2 q1.3 0.6 0.7 1.9M176.8 378.6 q-0.1 0.8 0.6 1.2M178.3 373.6 q-0.8 2.9 2.2 3.6M190.5 375.6 q0.3 1.5 1.7 2.3M198.1 376.0 q0.2 0.3 0.4 0.7M200.1 378.6 q0.1 2.7 2.8 2.8M208.3 376.7 q-0.0 0.2 -0.2 0.2M218.5 376.0 q1.4 1.6 -0.0 3.1M222.8 375.3 q-0.3 0.4 0.0 0.7M232.1 373.5 q-0.3 1.8 -0.8 3.5M146.1 386.5 q2.0 1.6 4.6 1.2M157.6 385.0 q0.0 0.2 -0.1 0.2M163.4 379.3 q0.7 2.4 0.6 4.9M166.8 382.7 q3.1 -1.1 4.0 2.1M177.4 384.1 q0.8 2.5 3.4 2.5M182.8 386.1 q0.6 0.7 0.4 1.6M194.3 380.7 q-0.8 3.0 2.1 4.3M202.4 382.9 q0.6 2.8 -2.2 3.3M206.3 384.2 q-1.4 0.3 -1.6 1.8M215.9 383.3 q0.2 2.5 1.4 4.7M219.4 386.3 q-0.2 0.3 -0.2 0.7M228.6 384.7 q-1.4 2.0 -3.0 3.9M144.8 388.6 q-0.2 0.7 0.3 1.3M151.1 387.9 q-0.5 1.5 -0.9 3.0M161.7 392.8 q0.8 0.6 0.4 1.5M170.9 387.7 q-1.3 -0.2 -2.6 0.2M171.7 387.5 q1.8 1.8 0.7 4.1M182.1 391.5 q1.1 2.3 -1.2 3.2M189.6 389.9 q0.7 0.2 1.1 0.9M197.6 389.8 q-0.0 2.0 0.5 4.0M206.1 391.4 q-2.7 1.0 -2.0 3.7M207.6 392.7 q2.4 -0.0 4.4 1.2M217.7 388.8 q0.1 2.3 0.5 4.6M223.5 386.9 q0.2 1.7 -0.4 3.3M151.5 394.8 q0.0 0.3 0.1 0.5M154.0 392.0 q-0.1 2.0 -1.1 3.9M163.1 396.7 q0.1 1.5 -0.2 3.0M172.8 395.4 q-0.2 1.7 -1.2 3.1M178.9 395.6 q-0.1 0.8 -0.9 0.9M185.0 395.0 q2.7 1.5 1.3 4.3M189.8 398.4 q0.6 1.2 1.9 1.7M201.2 397.7 q-0.7 1.8 -1.6 3.4M208.3 392.8 q1.9 1.2 1.5 3.5M212.9 398.0 q0.4 0.1 0.6 0.5M223.2 395.9 q0.1 1.0 -0.0 1.9M144.3 400.8 q2.0 1.3 1.1 3.4M152.2 404.2 q0.1 1.2 -0.4 2.3M157.7 405.9 q1.1 -0.4 2.3 -0.2M168.8 400.9 q-0.8 2.0 1.1 3.0M172.8 404.6 q0.2 1.7 1.6 2.8M183.0 401.6 q0.0 2.3 1.4 4.1M186.8 402.6 q0.1 2.7 2.1 4.5M197.8 402.2 q0.9 2.2 1.2 4.5M204.0 398.8 q-1.5 1.4 -0.8 3.3M208.5 401.5 q-1.5 0.7 -1.0 2.2M218.7 399.9 q-0.1 2.1 -2.2 1.9M223.2 399.0 q-0.3 1.1 -0.3 2.3M149.5 407.8 q-0.5 0.7 -0.8 1.4M157.7 406.9 q-0.1 0.4 -0.3 0.6M164.0 409.6 q0.1 1.5 1.4 2.4M168.6 411.7 q0.2 0.3 -0.0 0.6M177.6 407.7 q0.1 0.1 0.1 0.2M180.8 410.0 q1.3 2.3 3.9 1.8M193.9 406.9 q-1.3 1.3 -2.4 2.7M199.6 409.8 q-2.0 2.5 0.2 4.8M211.0 408.0 q-1.6 0.7 -1.6 2.5M213.8 410.4 q-1.8 1.7 -1.5 4.1M220.1 406.9 q-1.6 2.5 0.8 4.2M226.5 405.2 q-1.1 2.1 1.1 3.0M142.1 417.5 q0.0 0.2 0.2 0.2M147.6 417.5 q2.3 0.0 4.2 1.5M157.9 415.6 q1.4 2.1 2.9 4.0M167.2 414.0 q1.1 2.1 2.7 3.9M173.8 413.1 q1.1 -0.1 1.8 0.7M182.6 414.3 q0.4 0.4 0.9 0.7M187.3 414.6 q0.1 0.2 0.3 0.2M195.6 417.3 q0.0 0.3 0.2 0.6M203.5 416.5 q-1.7 -0.2 -3.1 0.8M208.3 415.7 q0.2 2.0 1.7 3.4M217.0 416.5 q0.2 2.5 -1.1 4.6M223.5 413.4 q1.2 0.8 0.3 1.9M141.2 420.1 q-0.3 1.9 -0.2 3.8M148.3 420.5 q0.0 0.5 -0.5 0.7M154.0 419.9 q0.3 0.5 0.9 0.6M165.3 420.8 q0.7 0.9 0.4 2.0M173.3 423.0 q0.5 1.4 -0.1 2.7M175.9 418.6 q0.3 0.9 1.1 1.5M183.4 423.3 q0.3 0.8 -0.0 1.5M189.8 422.7 q-0.4 1.3 0.8 1.8M199.7 421.3 q-1.0 1.4 -1.3 3.0M207.9 418.8 q-0.5 0.6 -0.8 1.4M214.8 424.1 q0.1 1.0 1.1 1.0M222.1 423.6 q-0.0 0.9 0.7 1.5M144.6 425.7 q0.5 2.4 -1.8 3.3M152.8 427.4 q0.1 0.5 0.6 0.5M156.7 426.0 q1.4 0.4 1.2 1.9M167.7 425.6 q2.0 -0.3 3.8 0.6M178.0 428.9 q-0.2 2.4 -1.5 4.4M183.4 428.9 q-0.2 0.2 -0.1 0.4M187.5 430.9 q-0.1 0.2 0.1 0.3M199.8 430.3 q-1.8 0.6 -1.4 2.4M205.7 428.9 q0.5 0.9 -0.2 1.7M211.4 427.4 q-0.1 0.1 -0.1 0.1M216.2 427.5 q0.0 2.0 -1.8 3.0"/>
<path id="bA" d="M260.7 49.3 q-0.3 0.7 -0.8 1.3M270.9 48.2 q0.2 1.2 0.3 2.3M278.5 49.6 q-1.6 0.1 -3.1 0.5M282.6 46.4 q0.3 0.9 -0.3 1.7M291.0 49.7 q0.1 -0.0 0.2 -0.0M299.8 48.6 q0.0 0.1 0.1 0.2M235.5 57.1 q-0.2 0.4 0.0 0.8M239.1 54.2 q0.2 0.4 0.5 0.7M249.0 52.0 q-1.4 0.6 -2.0 2.0M254.3 54.6 q-0.1 0.1 0.0 0.2M265.6 54.2 q-0.3 0.4 -0.1 0.8M274.8 54.4 q-0.6 0.8 0.2 1.4M283.6 57.7 q-2.0 0.3 -1.9 2.3M289.1 54.3 q0.2 0.1 0.1 0.3M293.9 58.6 q-1.3 -0.1 -2.5 -0.5M225.3 64.0 q-0.3 0.0 -0.4 0.3M232.2 60.2 q-0.2 0.6 0.1 1.2M237.7 62.5 q-0.2 0.3 -0.0 0.7M245.5 63.8 q-0.3 0.3 -0.6 0.6M254.6 64.0 q0.3 -0.2 0.7 -0.3M260.3 60.8 q-0.3 0.2 -0.5 0.6M271.2 62.8 q-1.2 0.1 -2.3 0.7M275.8 59.7 q0.6 1.4 1.2 2.9M282.6 62.2 q0.7 1.4 0.7 3.0M290.0 59.4 q-0.5 0.2 -0.4 0.6M298.4 63.3 q-0.6 1.2 -1.9 1.3M206.6 68.4 q0.6 0.7 -0.0 1.5"/>
<path id="bC" d="M328.9 53.7 q-1.7 -0.2 -2.4 1.4M337.7 47.3 q-0.2 1.9 1.6 2.6M348.6 50.4 q-0.0 0.4 -0.4 0.4M352.8 51.3 q0.4 -0.1 0.7 -0.2M358.2 50.2 q-0.3 0.0 -0.4 0.3M326.8 56.6 q0.6 0.3 0.2 0.9M336.7 56.1 q-0.1 0.6 -0.6 0.9M343.4 60.0 q-1.0 0.5 -2.0 0.1M348.1 61.2 q1.2 0.4 2.5 0.3M355.6 59.3 q0.5 0.3 0.1 0.8M363.9 59.2 q0.4 0.2 0.8 0.4M372.0 59.5 q1.4 -0.0 2.5 -1.0M378.2 57.4 q0.3 0.4 -0.0 0.7M388.1 55.8 q0.5 1.2 1.3 2.2M331.0 64.4 q0.4 0.2 0.4 0.6M340.0 62.4 q-0.6 -0.2 -1.0 0.2M344.2 66.4 q0.0 0.6 -0.2 1.2M351.7 66.4 q-0.3 1.3 -1.5 1.8M360.7 67.5 q0.0 0.9 0.9 0.8M372.2 61.7 q-0.7 0.1 -0.6 0.8M379.9 64.3 q-0.4 0.3 -0.8 0.1M387.8 62.5 q-0.6 0.2 -0.8 0.8M392.6 67.8 q-0.1 0.4 -0.0 0.7M402.4 63.3 q-0.3 0.8 -0.0 1.6M407.9 61.9 q0.0 0.3 -0.2 0.4M418.6 66.8 q-0.6 1.1 -1.7 0.4M421.8 62.7 q0.8 -0.4 1.2 0.4M348.8 68.7 q0.4 0.9 1.1 1.5M354.5 72.7 q0.3 -0.1 0.6 0.1M364.9 69.6 q-1.3 -0.3 -2.7 -0.1M372.0 73.7 q-0.2 0.5 -0.7 0.4M380.3 69.7 q-0.1 0.3 0.2 0.5M389.0 71.6 q-1.4 0.8 -0.7 2.2M396.6 73.4 q0.7 1.0 2.0 0.8M403.2 69.7 q-0.3 0.4 -0.8 0.4M411.5 71.5 q-1.7 1.0 -0.9 2.8M421.3 72.3 q-0.6 1.7 -2.3 1.1M384.0 76.5 q-0.2 -0.2 -0.4 -0.0M395.8 77.7 q-1.6 -0.2 -2.8 1.0M400.3 78.3 q-0.2 0.6 0.2 1.1M406.7 80.7 q0.6 1.0 1.6 0.4M414.8 80.1 q-1.5 0.1 -1.7 1.6M424.7 80.6 q-0.4 0.2 -0.1 0.5M421.8 81.5 q-0.4 1.5 -1.6 2.5"/>
<path id="bG" d="M396.8 186.1 q-0.1 0.1 -0.3 0.0M349.0 188.8 q1.5 0.6 2.1 2.1M352.3 193.3 q-0.4 0.1 -0.7 0.5M361.0 193.4 q-0.3 1.7 -2.0 1.4M369.0 192.6 q0.4 0.1 0.4 0.4M381.4 190.8 q-0.5 -0.5 -1.1 -0.3M385.6 193.6 q0.4 0.0 0.6 0.3M395.1 192.2 q-0.7 0.0 -1.1 0.5M348.2 196.4 q0.0 0.8 -0.7 1.2M358.3 198.9 q0.2 0.4 0.6 0.3M368.4 198.8 q-0.6 1.4 -0.5 2.9M375.0 195.5 q0.0 0.4 0.4 0.5M382.1 200.2 q-0.4 0.6 -1.1 0.5M387.1 195.1 q0.3 1.9 2.2 2.0M397.0 194.5 q-0.9 0.0 -1.6 0.7M353.2 202.0 q-0.2 0.7 -0.9 0.9M362.6 204.6 q0.1 0.6 0.7 0.7M369.7 203.8 q-2.5 0.3 -2.0 2.7M377.2 203.3 q0.3 1.5 1.0 3.0M387.0 207.0 q0.1 0.4 0.3 0.8M352.1 213.0 q-1.7 0.7 -3.5 0.8M360.4 211.2 q0.7 -0.0 1.3 0.4M366.4 210.0 q1.1 1.2 2.7 1.2M376.1 208.6 q0.4 1.4 -0.8 2.2M379.6 214.4 q0.7 -0.1 1.2 -0.7M354.2 216.1 q-0.2 0.4 -0.7 0.4M364.3 216.6 q0.5 0.1 0.8 0.6M371.0 219.4 q0.7 0.6 0.9 1.5M378.0 215.8 q-1.3 0.3 -2.2 1.2M387.6 216.4 q-1.0 -0.1 -1.1 0.9M360.4 224.9 q-0.4 0.3 -0.9 0.5M368.4 223.8 q-0.2 1.5 0.9 2.6M378.3 227.1 q-0.5 -0.1 -0.7 0.4M385.5 225.1 q0.0 0.2 0.0 0.4M389.4 225.5 q0.8 -0.8 1.6 0.0M356.0 231.9 q2.0 -0.3 2.7 1.6M364.7 232.5 q-0.1 0.5 -0.1 1.0M371.5 234.9 q0.6 0.9 1.7 0.7M378.6 229.9 q0.1 0.1 0.1 0.2M385.5 228.2 q-0.1 2.5 2.4 2.6M358.3 241.6 q2.1 -0.2 3.2 1.7M365.1 241.0 q-0.2 0.1 -0.4 0.1M373.0 240.1 q0.8 0.3 0.7 1.2M379.1 237.1 q1.0 0.2 2.0 -0.1M389.7 238.9 q0.2 0.1 0.1 0.3M364.5 246.4 q-0.2 0.3 -0.5 0.5M368.0 243.8 q1.5 1.5 3.2 0.4M380.5 244.1 q0.8 0.9 1.4 1.9M387.9 248.6 q-0.8 1.8 -2.7 2.0M392.3 243.2 q-0.0 0.5 -0.4 0.8M361.3 255.4 q-0.4 -0.1 -0.5 0.3M366.6 256.3 q1.3 0.4 2.2 -0.6M375.1 254.0 q-1.1 0.5 -1.0 1.6M385.3 256.5 q0.3 0.1 0.3 0.4M392.7 255.1 q0.4 0.0 0.6 -0.3M362.1 258.7 q-0.2 0.1 -0.2 0.3M373.2 263.1 q0.1 0.1 0.2 0.3M380.5 263.0 q-0.2 0.3 -0.3 0.5M386.1 259.1 q-1.2 0.5 -2.5 0.0M393.6 262.3 q0.1 0.0 0.2 -0.1M360.4 266.8 q1.0 1.0 2.4 1.1M370.0 269.3 q-0.2 -0.2 -0.4 0.1M375.3 266.9 q-1.9 -0.1 -3.3 -1.3M384.5 264.5 q0.6 0.2 1.2 0.5M393.2 267.2 q-0.2 0.3 0.1 0.5M355.8 271.9 q1.0 1.8 2.7 0.7M360.5 275.6 q-0.5 -0.0 -0.8 0.4M368.4 272.3 q-0.2 0.2 -0.3 0.4M381.2 270.9 q0.3 0.4 0.1 0.8M386.0 276.9 q-0.7 0.5 -0.2 1.2M391.9 276.3 q0.2 0.7 1.0 0.7M354.9 279.6 q0.9 1.5 2.1 2.7M368.7 283.9 q-0.4 -0.2 -0.8 -0.3M377.9 278.9 q-0.4 0.3 -0.8 0.5M383.9 283.1 q0.4 1.1 0.2 2.3M388.5 277.4 q1.2 0.6 2.1 1.7M353.9 288.1 q0.6 0.5 1.0 1.1M365.3 290.7 q0.4 -0.1 0.4 0.3M370.2 288.1 q0.5 0.0 1.0 0.1M377.6 285.3 q0.1 0.3 0.4 0.5M353.1 296.6 q0.1 0.4 -0.1 0.8M359.0 297.1 q0.4 -0.0 0.6 0.3M367.6 292.7 q-0.9 0.7 -2.1 0.4M374.9 292.6 q-1.3 1.0 -0.3 2.3M355.2 301.7 q0.9 1.5 0.4 3.2M366.1 300.7 q-0.8 0.3 -1.2 0.9"/>
</defs>
<rect width="600" height="490" fill="#fff"/>

<!-- deltoid -->
<g clip-path="url(#cDel)">
<path d="M215.0 50.0C211.9 51.4 201.2 56.3 196.5 58.4C191.8 60.5 190.4 60.9 186.7 62.4C183.0 63.9 178.6 65.5 174.5 67.3C170.4 69.1 166.3 71.0 162.2 73.2C158.1 75.4 154.2 77.6 150.0 80.2C145.8 82.8 140.9 85.9 136.7 88.6C132.4 91.3 128.6 93.9 124.5 96.6C120.4 99.3 116.3 102.0 112.2 104.8C108.1 107.6 105.6 109.2 100.0 113.3C94.4 117.4 85.0 124.3 78.5 129.6C72.0 134.9 66.2 139.7 61.0 144.9C55.8 150.1 51.4 154.9 47.0 160.6C42.6 166.3 38.5 172.6 34.7 179.0C30.9 185.4 27.3 192.5 24.3 199.0C21.3 205.5 18.8 211.8 16.7 218.0C14.6 224.2 12.9 230.2 11.5 236.0C10.1 241.8 9.1 246.9 8.3 252.7C7.5 258.5 7.0 264.6 6.9 271.0C6.8 277.4 7.2 284.6 7.9 291.4C8.6 298.2 9.6 303.4 11.2 312.0C12.8 320.6 15.5 333.9 17.5 343.0C19.5 352.1 21.8 358.9 23.3 366.7C24.9 374.5 25.6 382.3 26.8 390.0C28.0 397.7 29.3 406.0 30.3 413.0C31.3 420.0 32.5 428.8 33.0 432.0L122.0 432.0C122.3 428.8 123.2 420.0 124.0 413.0C124.8 406.0 125.8 397.7 127.0 390.0C128.2 382.3 130.2 374.5 131.0 366.7C131.8 358.9 132.0 349.9 132.0 343.0C132.0 336.1 131.7 330.5 131.0 325.0C130.3 319.5 129.2 317.0 128.0 310.0C126.8 303.0 125.3 293.5 124.0 283.0C122.7 272.5 120.5 256.7 120.0 247.0C119.5 237.3 121.2 232.8 121.0 225.0C120.8 217.2 120.5 206.1 119.0 200.0C117.5 193.9 113.1 193.2 112.0 188.5C110.9 183.8 111.4 177.9 112.3 172.0C113.2 166.1 116.0 157.9 117.5 153.0C119.0 148.1 119.7 146.2 121.4 142.5C123.2 138.8 124.9 134.8 128.0 130.5C131.1 126.2 136.6 120.5 140.0 116.7C143.4 112.9 145.5 110.3 148.3 107.5C151.1 104.7 153.9 102.2 156.7 100.0C159.5 97.8 162.2 96.0 165.0 94.2C167.8 92.4 170.5 90.7 173.3 89.2C176.1 87.7 178.9 86.5 181.7 85.4C184.5 84.3 185.3 84.2 190.0 82.5C194.7 80.8 202.5 77.1 210.0 75.0C217.5 72.9 230.8 70.8 235.0 70.0Z" fill="#cf7a6e"/>
<path d="M215.0 50.0C211.9 51.4 201.2 56.3 196.5 58.4C191.8 60.5 190.4 60.9 186.7 62.4C183.0 63.9 178.6 65.5 174.5 67.3C170.4 69.1 166.3 71.0 162.2 73.2C158.1 75.4 154.2 77.6 150.0 80.2C145.8 82.8 140.9 85.9 136.7 88.6C132.4 91.3 128.6 93.9 124.5 96.6C120.4 99.3 116.3 102.0 112.2 104.8C108.1 107.6 105.6 109.2 100.0 113.3C94.4 117.4 85.0 124.3 78.5 129.6C72.0 134.9 66.2 139.7 61.0 144.9C55.8 150.1 51.4 154.9 47.0 160.6C42.6 166.3 38.5 172.6 34.7 179.0C30.9 185.4 27.3 192.5 24.3 199.0C21.3 205.5 18.8 211.8 16.7 218.0C14.6 224.2 12.9 230.2 11.5 236.0C10.1 241.8 9.1 246.9 8.3 252.7C7.5 258.5 7.0 264.6 6.9 271.0C6.8 277.4 7.2 284.6 7.9 291.4C8.6 298.2 9.6 303.4 11.2 312.0C12.8 320.6 15.5 333.9 17.5 343.0C19.5 352.1 21.8 358.9 23.3 366.7C24.9 374.5 25.6 382.3 26.8 390.0C28.0 397.7 29.3 406.0 30.3 413.0C31.3 420.0 32.5 428.8 33.0 432.0L122.0 432.0C122.3 428.8 123.2 420.0 124.0 413.0C124.8 406.0 125.8 397.7 127.0 390.0C128.2 382.3 130.2 374.5 131.0 366.7C131.8 358.9 132.0 349.9 132.0 343.0C132.0 336.1 131.7 330.5 131.0 325.0C130.3 319.5 129.2 317.0 128.0 310.0C126.8 303.0 125.3 293.5 124.0 283.0C122.7 272.5 120.5 256.7 120.0 247.0C119.5 237.3 121.2 232.8 121.0 225.0C120.8 217.2 120.5 206.1 119.0 200.0C117.5 193.9 113.1 193.2 112.0 188.5C110.9 183.8 111.4 177.9 112.3 172.0C113.2 166.1 116.0 157.9 117.5 153.0C119.0 148.1 119.7 146.2 121.4 142.5C123.2 138.8 124.9 134.8 128.0 130.5C131.1 126.2 136.6 120.5 140.0 116.7C143.4 112.9 145.5 110.3 148.3 107.5C151.1 104.7 153.9 102.2 156.7 100.0C159.5 97.8 162.2 96.0 165.0 94.2C167.8 92.4 170.5 90.7 173.3 89.2C176.1 87.7 178.9 86.5 181.7 85.4C184.5 84.3 185.3 84.2 190.0 82.5C194.7 80.8 202.5 77.1 210.0 75.0C217.5 72.9 230.8 70.8 235.0 70.0Z" fill="url(#gDel)" opacity="0.9"/>
<path d="M215.0 50.0C211.9 51.4 201.2 56.3 196.5 58.4C191.8 60.5 190.4 60.9 186.7 62.4C183.0 63.9 178.6 65.5 174.5 67.3C170.4 69.1 166.3 71.0 162.2 73.2C158.1 75.4 154.2 77.6 150.0 80.2C145.8 82.8 140.9 85.9 136.7 88.6C132.4 91.3 128.6 93.9 124.5 96.6C120.4 99.3 116.3 102.0 112.2 104.8C108.1 107.6 105.6 109.2 100.0 113.3C94.4 117.4 85.0 124.3 78.5 129.6C72.0 134.9 66.2 139.7 61.0 144.9C55.8 150.1 51.4 154.9 47.0 160.6C42.6 166.3 38.5 172.6 34.7 179.0C30.9 185.4 27.3 192.5 24.3 199.0C21.3 205.5 18.8 211.8 16.7 218.0C14.6 224.2 12.9 230.2 11.5 236.0C10.1 241.8 9.1 246.9 8.3 252.7C7.5 258.5 7.0 264.6 6.9 271.0C6.8 277.4 7.2 284.6 7.9 291.4C8.6 298.2 9.6 303.4 11.2 312.0C12.8 320.6 15.5 333.9 17.5 343.0C19.5 352.1 21.8 358.9 23.3 366.7C24.9 374.5 25.6 382.3 26.8 390.0C28.0 397.7 29.3 406.0 30.3 413.0C31.3 420.0 32.5 428.8 33.0 432.0L122.0 432.0C122.3 428.8 123.2 420.0 124.0 413.0C124.8 406.0 125.8 397.7 127.0 390.0C128.2 382.3 130.2 374.5 131.0 366.7C131.8 358.9 132.0 349.9 132.0 343.0C132.0 336.1 131.7 330.5 131.0 325.0C130.3 319.5 129.2 317.0 128.0 310.0C126.8 303.0 125.3 293.5 124.0 283.0C122.7 272.5 120.5 256.7 120.0 247.0C119.5 237.3 121.2 232.8 121.0 225.0C120.8 217.2 120.5 206.1 119.0 200.0C117.5 193.9 113.1 193.2 112.0 188.5C110.9 183.8 111.4 177.9 112.3 172.0C113.2 166.1 116.0 157.9 117.5 153.0C119.0 148.1 119.7 146.2 121.4 142.5C123.2 138.8 124.9 134.8 128.0 130.5C131.1 126.2 136.6 120.5 140.0 116.7C143.4 112.9 145.5 110.3 148.3 107.5C151.1 104.7 153.9 102.2 156.7 100.0C159.5 97.8 162.2 96.0 165.0 94.2C167.8 92.4 170.5 90.7 173.3 89.2C176.1 87.7 178.9 86.5 181.7 85.4C184.5 84.3 185.3 84.2 190.0 82.5C194.7 80.8 202.5 77.1 210.0 75.0C217.5 72.9 230.8 70.8 235.0 70.0Z" fill="none" stroke="#a5404a" stroke-width="14" opacity="0.33" filter="url(#bl4)"/>
<path d="M216.5 51.5C214.4 52.4 208.1 55.2 203.9 57.0C199.7 58.8 195.5 60.5 191.2 62.3C187.0 64.0 182.6 65.5 178.4 67.3C174.2 69.1 170.0 71.0 165.9 73.0C161.8 75.1 157.8 77.3 153.8 79.6C149.9 82.0 146.0 84.4 142.1 86.9C138.3 89.4 134.4 91.9 130.6 94.4C126.8 97.0 123.0 99.5 119.2 102.1C115.5 104.7 111.7 107.3 108.0 110.0C104.3 112.7 100.6 115.5 97.0 118.3C93.4 121.1 89.8 123.9 86.3 126.8C82.7 129.7 79.3 132.7 75.9 135.7C72.6 138.8 69.2 141.9 66.1 145.2C62.9 148.4 59.9 151.8 57.0 155.3C54.1 158.9 51.4 162.6 48.9 166.3C46.3 170.1 44.0 174.0 41.8 178.0C39.6 181.9 37.6 186.0 35.6 190.1C33.7 194.2 31.9 198.3 30.2 202.5C28.4 206.8 26.8 211.0 25.4 215.4C23.9 219.7 22.5 224.1 21.4 228.5C20.2 232.9 19.2 237.4 18.3 241.8C17.4 246.3 16.7 250.9 16.2 255.4C15.7 260.0 15.4 264.5 15.2 269.1C15.1 273.7 15.3 278.3 15.6 282.9C15.8 287.4 16.3 292.0 16.9 296.6C17.5 301.1 18.4 305.6 19.2 310.1C20.0 314.6 20.9 319.1 21.8 323.7C22.6 328.2 23.5 332.7 24.4 337.2C25.3 341.6 26.2 346.1 27.2 350.6C28.2 355.1 29.4 359.5 30.3 364.0C31.1 368.4 31.8 373.0 32.4 377.5C33.0 382.0 33.4 386.6 34.0 391.1C34.6 395.7 35.2 400.2 35.8 404.7C36.4 409.3 37.0 413.8 37.6 418.4C38.1 422.9 39.0 429.7 39.3 432.0M218.1 53.1C216.0 54.0 209.7 56.6 205.5 58.3C201.3 60.0 197.1 61.7 192.9 63.3C188.7 65.0 184.4 66.5 180.2 68.3C176.0 70.1 171.8 71.9 167.8 73.9C163.7 75.9 159.7 78.1 155.7 80.4C151.8 82.6 148.0 85.1 144.1 87.5C140.3 90.0 136.5 92.5 132.7 95.0C129.0 97.6 125.3 100.2 121.6 102.8C117.9 105.4 114.2 108.1 110.6 110.8C107.0 113.5 103.3 116.3 99.8 119.1C96.3 122.0 92.8 124.9 89.5 127.8C86.1 130.8 82.8 133.8 79.6 137.0C76.4 140.1 73.3 143.3 70.3 146.6C67.3 150.0 64.4 153.4 61.7 157.0C59.0 160.5 56.5 164.2 54.1 168.0C51.8 171.8 49.7 175.8 47.7 179.8C45.7 183.7 43.9 187.8 42.2 191.9C40.4 196.0 38.8 200.1 37.3 204.3C35.8 208.5 34.3 212.8 33.0 217.1C31.6 221.4 30.4 225.8 29.3 230.2C28.3 234.5 27.4 239.0 26.6 243.4C25.9 247.9 25.2 252.4 24.8 256.9C24.4 261.4 24.1 265.9 24.1 270.5C24.0 275.0 24.2 279.6 24.5 284.1C24.9 288.6 25.3 293.1 26.0 297.6C26.6 302.1 27.5 306.6 28.3 311.1C29.1 315.6 30.0 320.0 30.8 324.5C31.6 329.0 32.4 333.5 33.2 337.9C34.0 342.4 34.9 346.8 35.7 351.3C36.6 355.7 37.7 360.1 38.5 364.5C39.2 369.0 39.7 373.5 40.2 378.0C40.7 382.5 41.1 387.0 41.5 391.5C42.0 396.0 42.5 400.5 43.0 405.0C43.5 409.5 44.0 414.0 44.5 418.5C45.0 423.0 45.7 429.7 45.9 432.0M220.2 55.2C218.1 56.0 211.9 58.4 207.7 60.0C203.5 61.6 199.3 63.2 195.1 64.8C190.9 66.4 186.7 67.9 182.5 69.6C178.4 71.3 174.3 73.2 170.2 75.1C166.2 77.1 162.2 79.1 158.3 81.3C154.3 83.5 150.5 85.9 146.8 88.3C143.0 90.7 139.2 93.2 135.5 95.8C131.8 98.3 128.2 101.0 124.6 103.7C121.0 106.3 117.5 109.1 114.0 111.8C110.5 114.6 106.9 117.4 103.5 120.3C100.1 123.2 96.8 126.1 93.6 129.2C90.5 132.2 87.4 135.4 84.4 138.6C81.4 141.8 78.6 145.1 75.8 148.5C73.1 152.0 70.4 155.5 68.0 159.1C65.5 162.7 63.1 166.5 61.0 170.3C58.9 174.1 57.1 178.1 55.4 182.1C53.6 186.1 52.2 190.1 50.7 194.2C49.3 198.3 48.0 202.5 46.7 206.7C45.4 210.8 44.1 215.1 42.9 219.4C41.8 223.7 40.7 228.0 39.8 232.4C38.9 236.7 38.1 241.1 37.5 245.5C36.9 249.9 36.4 254.4 36.1 258.8C35.8 263.3 35.6 267.8 35.6 272.3C35.7 276.7 36.0 281.2 36.3 285.7C36.7 290.2 37.2 294.6 37.9 299.1C38.5 303.5 39.5 307.9 40.2 312.4C41.0 316.8 41.8 321.2 42.6 325.6C43.4 330.1 44.1 334.5 44.8 338.9C45.5 343.3 46.2 347.7 47.0 352.1C47.7 356.5 48.6 360.9 49.2 365.3C49.8 369.7 50.2 374.2 50.5 378.6C50.9 383.0 51.1 387.5 51.4 391.9C51.8 396.4 52.1 400.8 52.5 405.3C52.9 409.7 53.2 414.2 53.6 418.6C54.0 423.1 54.5 429.8 54.7 432.0M222.7 57.7C220.6 58.4 214.4 60.6 210.2 62.1C206.1 63.6 201.9 65.0 197.7 66.5C193.6 68.0 189.4 69.5 185.3 71.2C181.2 72.8 177.1 74.6 173.1 76.5C169.1 78.4 165.1 80.3 161.2 82.4C157.4 84.5 153.6 86.9 149.9 89.3C146.1 91.7 142.4 94.1 138.8 96.7C135.2 99.3 131.7 102.0 128.3 104.7C124.8 107.4 121.4 110.2 118.0 113.0C114.6 115.9 111.2 118.7 108.0 121.6C104.7 124.6 101.6 127.7 98.6 130.8C95.7 134.0 92.9 137.2 90.2 140.6C87.5 143.9 84.9 147.3 82.4 150.8C80.0 154.3 77.6 157.9 75.4 161.6C73.2 165.3 71.0 169.1 69.2 173.0C67.4 176.9 65.9 180.9 64.5 184.9C63.1 188.9 62.0 192.9 60.9 197.0C59.8 201.1 58.9 205.3 57.9 209.4C56.8 213.6 55.7 217.9 54.8 222.1C53.9 226.4 53.0 230.7 52.2 235.0C51.5 239.3 51.0 243.6 50.5 248.0C50.1 252.4 49.7 256.8 49.6 261.2C49.4 265.6 49.3 270.0 49.4 274.4C49.6 278.8 49.9 283.2 50.4 287.6C50.8 292.0 51.4 296.4 52.1 300.8C52.8 305.2 53.7 309.5 54.5 313.9C55.2 318.2 56.0 322.6 56.7 327.0C57.4 331.4 58.0 335.7 58.6 340.1C59.2 344.5 59.8 348.8 60.3 353.2C60.9 357.5 61.6 361.9 62.0 366.2C62.5 370.6 62.6 374.9 62.8 379.3C63.0 383.7 63.1 388.1 63.2 392.5C63.4 396.9 63.6 401.2 63.8 405.6C64.0 410.0 64.2 414.4 64.4 418.8C64.7 423.2 65.0 429.8 65.1 432.0M225.7 60.7C223.6 61.3 217.4 63.3 213.3 64.6C209.2 65.9 205.0 67.1 200.9 68.5C196.8 69.9 192.7 71.4 188.6 73.0C184.6 74.7 180.6 76.4 176.6 78.2C172.7 80.0 168.7 81.7 164.8 83.7C161.0 85.8 157.3 88.1 153.6 90.5C149.9 92.8 146.3 95.2 142.8 97.8C139.3 100.4 135.9 103.1 132.6 105.9C129.3 108.7 126.1 111.6 122.9 114.5C119.6 117.4 116.3 120.2 113.3 123.3C110.2 126.3 107.3 129.5 104.6 132.7C101.9 136.0 99.4 139.4 97.0 142.9C94.7 146.4 92.5 149.9 90.3 153.6C88.2 157.2 86.1 160.9 84.3 164.7C82.4 168.4 80.5 172.3 79.0 176.2C77.6 180.1 76.5 184.2 75.5 188.2C74.5 192.3 73.9 196.3 73.2 200.4C72.5 204.5 72.0 208.6 71.3 212.8C70.6 216.9 69.7 221.2 69.0 225.4C68.4 229.6 67.7 233.9 67.2 238.1C66.7 242.4 66.4 246.7 66.1 251.0C65.9 255.3 65.7 259.6 65.7 263.9C65.7 268.3 65.7 272.6 66.0 276.9C66.2 281.3 66.7 285.6 67.2 289.9C67.7 294.2 68.4 298.5 69.1 302.8C69.8 307.1 70.8 311.4 71.5 315.7C72.3 320.0 73.0 324.3 73.6 328.6C74.2 332.9 74.7 337.2 75.2 341.5C75.6 345.8 76.0 350.2 76.4 354.4C76.8 358.7 77.2 363.0 77.4 367.3C77.6 371.6 77.5 375.9 77.5 380.2C77.5 384.5 77.4 388.8 77.4 393.1C77.3 397.4 77.3 401.7 77.3 406.1C77.3 410.4 77.4 414.7 77.4 419.0C77.5 423.3 77.6 429.8 77.7 432.0M229.3 64.3C227.2 64.8 221.1 66.4 217.0 67.5C212.9 68.6 208.8 69.6 204.7 70.9C200.6 72.2 196.6 73.8 192.7 75.3C188.7 76.8 184.8 78.5 180.8 80.2C176.9 81.9 172.9 83.4 169.1 85.3C165.3 87.3 161.7 89.5 158.1 91.8C154.5 94.2 151.0 96.6 147.6 99.2C144.2 101.7 141.0 104.6 137.9 107.4C134.7 110.3 131.7 113.3 128.7 116.2C125.7 119.2 122.4 122.1 119.6 125.2C116.8 128.3 114.2 131.7 111.8 135.1C109.4 138.5 107.3 142.1 105.3 145.7C103.3 149.4 101.6 153.1 99.8 156.8C98.1 160.6 96.4 164.4 94.9 168.3C93.4 172.2 91.9 176.1 90.8 180.1C89.8 184.1 89.2 188.2 88.7 192.2C88.2 196.3 88.1 200.4 87.8 204.5C87.6 208.6 87.6 212.6 87.4 216.8C87.1 220.9 86.5 225.1 86.1 229.3C85.8 233.5 85.3 237.7 85.1 241.9C84.9 246.1 84.9 250.3 84.9 254.6C84.8 258.8 84.9 263.0 85.1 267.3C85.2 271.5 85.4 275.8 85.8 280.0C86.2 284.2 86.8 288.5 87.4 292.7C88.0 296.9 88.7 301.1 89.5 305.3C90.3 309.5 91.3 313.7 92.0 317.9C92.7 322.1 93.4 326.3 93.9 330.5C94.4 334.8 94.7 339.0 95.0 343.2C95.3 347.5 95.5 351.7 95.6 356.0C95.8 360.2 95.9 364.4 95.9 368.6C95.8 372.8 95.4 377.0 95.2 381.3C94.9 385.5 94.6 389.7 94.3 393.9C94.1 398.1 93.8 402.3 93.6 406.6C93.3 410.8 93.2 415.0 93.0 419.3C92.9 423.5 92.8 429.9 92.7 432.0M232.5 67.5C230.5 67.9 224.3 69.2 220.3 70.2C216.2 71.1 212.1 71.9 208.1 73.1C204.1 74.3 200.1 75.8 196.2 77.3C192.3 78.8 188.4 80.4 184.6 82.0C180.7 83.6 176.7 84.9 173.0 86.8C169.2 88.6 165.6 90.8 162.1 93.1C158.6 95.3 155.1 97.7 151.8 100.3C148.6 102.9 145.5 105.8 142.5 108.7C139.5 111.6 136.7 114.8 133.9 117.8C131.0 120.8 127.9 123.7 125.3 126.9C122.7 130.2 120.3 133.6 118.2 137.1C116.1 140.7 114.3 144.5 112.6 148.2C111.0 152.0 109.6 155.9 108.3 159.8C106.9 163.7 105.6 167.6 104.4 171.5C103.3 175.5 102.0 179.5 101.3 183.5C100.7 187.6 100.5 191.7 100.4 195.8C100.3 199.9 100.7 204.0 100.9 208.1C101.1 212.1 101.6 216.2 101.7 220.3C101.7 224.5 101.4 228.6 101.3 232.8C101.2 236.9 101.0 241.1 101.0 245.3C101.1 249.4 101.3 253.6 101.5 257.7C101.7 261.9 101.9 266.1 102.3 270.2C102.6 274.4 103.0 278.6 103.5 282.7C104.0 286.9 104.7 291.0 105.4 295.1C106.1 299.3 106.9 303.4 107.7 307.5C108.5 311.6 109.5 315.7 110.2 319.8C110.9 323.9 111.5 328.1 111.9 332.2C112.3 336.4 112.6 340.6 112.7 344.8C112.8 348.9 112.8 353.1 112.8 357.3C112.7 361.5 112.6 365.6 112.2 369.8C111.9 373.9 111.4 378.0 110.9 382.2C110.4 386.3 109.9 390.5 109.4 394.6C108.9 398.7 108.4 402.9 108.0 407.0C107.6 411.2 107.2 415.3 106.9 419.5C106.6 423.7 106.2 429.9 106.1 432.0" fill="none" stroke="url(#gDStr)" stroke-width="1.15"/>
</g>
<path d="M215.0 50.0C211.9 51.4 201.2 56.3 196.5 58.4C191.8 60.5 190.4 60.9 186.7 62.4C183.0 63.9 178.6 65.5 174.5 67.3C170.4 69.1 166.3 71.0 162.2 73.2C158.1 75.4 154.2 77.6 150.0 80.2C145.8 82.8 140.9 85.9 136.7 88.6C132.4 91.3 128.6 93.9 124.5 96.6C120.4 99.3 116.3 102.0 112.2 104.8C108.1 107.6 105.6 109.2 100.0 113.3C94.4 117.4 85.0 124.3 78.5 129.6C72.0 134.9 66.2 139.7 61.0 144.9C55.8 150.1 51.4 154.9 47.0 160.6C42.6 166.3 38.5 172.6 34.7 179.0C30.9 185.4 27.3 192.5 24.3 199.0C21.3 205.5 18.8 211.8 16.7 218.0C14.6 224.2 12.9 230.2 11.5 236.0C10.1 241.8 9.1 246.9 8.3 252.7C7.5 258.5 7.0 264.6 6.9 271.0C6.8 277.4 7.2 284.6 7.9 291.4C8.6 298.2 9.6 303.4 11.2 312.0C12.8 320.6 15.5 333.9 17.5 343.0C19.5 352.1 21.8 358.9 23.3 366.7C24.9 374.5 25.6 382.3 26.8 390.0C28.0 397.7 29.3 406.0 30.3 413.0C31.3 420.0 32.5 428.8 33.0 432.0" fill="none" stroke="#a34450" stroke-width="1.2"/>

<!-- scapula body -->
<path d="M400 180C401.6 180.7 406.4 182.0 409.5 184.0C412.6 186.0 415.5 190.1 418.5 192.0C421.5 193.9 422.2 194.1 427.5 195.4C432.8 196.7 446.2 199.2 450.0 200.0L450 432L401 432C400.2 430.3 397.8 425.7 396.0 422.0C394.2 418.3 392.4 414.2 390.4 410.0C388.4 405.8 386.2 401.8 384.0 397.0C381.8 392.2 379.2 386.3 377.0 381.0C374.8 375.7 373.1 370.3 371.0 365.0C368.9 359.7 367.0 355.8 364.7 349.0C362.4 342.2 359.0 330.0 357.4 324.5C355.8 319.0 355.4 317.4 355.0 316.0L350 300L380 200Z" fill="url(#gScap)"/>
<path d="M401.0 432.0C400.2 430.3 397.8 425.7 396.0 422.0C394.2 418.3 392.4 414.2 390.4 410.0C388.4 405.8 386.2 401.8 384.0 397.0C381.8 392.2 379.2 386.3 377.0 381.0C374.8 375.7 373.1 370.3 371.0 365.0C368.9 359.7 367.0 355.8 364.7 349.0C362.4 342.2 359.0 330.0 357.4 324.5C355.8 319.0 355.4 317.4 355.0 316.0" fill="none" stroke="#7f6342" stroke-width="2.6"/>
<path d="M411 186C404 200 400.5 212 401 232C402 250 407 262 405 272C402 282 396 290 389 297" fill="none" stroke="#a8946f" stroke-width="9" opacity="0.55" filter="url(#bl2)"/>

<!-- tendon + supraspinatus -->
<g clip-path="url(#cSup)">
<path d="M111.5 204.0C112.5 202.8 114.8 200.8 117.4 196.6C120.0 192.3 124.3 183.9 127.0 178.5C129.7 173.1 131.6 168.6 133.8 164.0C136.0 159.4 137.9 155.3 140.0 151.0C142.1 146.7 143.9 141.9 146.6 138.0C149.3 134.1 152.9 130.6 156.0 127.5C159.1 124.4 162.1 122.1 165.0 119.5C167.9 116.9 170.5 114.1 173.3 112.0C176.1 109.9 178.9 108.3 181.7 106.7C184.5 105.1 186.9 103.8 190.0 102.5C193.1 101.2 193.3 101.1 200.0 99.0C206.7 96.9 221.7 91.8 230.0 90.0C238.3 88.2 241.7 88.0 250.0 88.0C258.3 88.0 274.3 89.0 280.0 90.0C285.7 91.0 282.3 93.2 284.3 94.3C286.3 95.4 289.4 95.7 292.0 96.6C294.6 97.5 297.0 98.3 300.0 99.5C303.0 100.7 306.7 102.2 310.0 103.5C313.3 104.8 316.7 106.3 320.0 107.5C323.3 108.7 326.7 109.5 330.0 110.5C333.3 111.5 336.7 112.5 340.0 113.5C343.3 114.5 346.7 115.4 350.0 116.2C353.3 117.0 355.8 117.6 360.0 118.5C364.2 119.4 370.6 120.9 375.0 121.8C379.4 122.7 382.5 123.3 386.7 124.0C390.9 124.7 395.6 125.3 400.0 125.8C404.4 126.3 408.7 126.7 413.3 127.1C417.9 127.5 422.2 127.7 427.5 128.0C432.8 128.3 442.1 128.6 445.0 128.7L445.0 200.0C442.1 199.2 431.9 196.7 427.5 195.4C423.1 194.1 421.5 193.9 418.5 192.0C415.5 190.1 411.8 186.2 409.5 184.0C407.2 181.8 408.0 180.0 405.0 179.0C402.0 178.0 395.8 177.8 391.6 178.0C387.4 178.2 383.8 179.2 380.0 180.0C376.2 180.8 372.0 183.2 369.0 183.0C366.0 182.8 364.6 180.8 362.0 179.0C359.4 177.2 357.2 174.8 353.5 172.0C349.8 169.2 345.0 166.2 340.0 162.0C335.0 157.8 329.1 151.6 323.6 146.8C318.1 142.0 312.6 137.6 307.0 133.4C301.4 129.2 295.6 125.0 290.0 121.7C284.4 118.4 278.9 115.5 273.4 113.4C267.8 111.3 262.3 110.0 256.7 109.2C251.1 108.4 246.1 108.4 240.0 108.4C233.9 108.4 226.7 108.2 220.0 109.0C213.3 109.8 204.5 112.0 200.0 113.0C195.5 114.0 196.4 113.9 193.0 115.3C189.6 116.7 183.8 119.0 179.8 121.2C175.8 123.4 172.5 125.6 169.2 128.5C165.9 131.4 162.7 134.8 160.0 138.5C157.3 142.2 154.8 146.8 153.3 150.4C151.8 154.0 152.4 155.9 151.0 160.0C149.6 164.1 148.5 168.3 145.0 175.0C141.5 181.7 132.5 195.8 130.0 200.0Z" fill="url(#gSup)"/>
<path d="M284.3 94.3C285.6 94.7 289.4 95.7 292.0 96.6C294.6 97.5 297.0 98.3 300.0 99.5C303.0 100.7 306.7 102.2 310.0 103.5C313.3 104.8 316.7 106.3 320.0 107.5C323.3 108.7 326.7 109.5 330.0 110.5C333.3 111.5 336.7 112.5 340.0 113.5C343.3 114.5 346.7 115.4 350.0 116.2C353.3 117.0 355.8 117.6 360.0 118.5C364.2 119.4 370.6 120.9 375.0 121.8C379.4 122.7 382.5 123.3 386.7 124.0C390.9 124.7 395.6 125.3 400.0 125.8C404.4 126.3 408.7 126.7 413.3 127.1C417.9 127.5 422.2 127.7 427.5 128.0C432.8 128.3 442.1 128.6 445.0 128.7" fill="none" stroke="#8a3d3a" stroke-width="10" opacity="0.42" filter="url(#bl2)"/>
<path d="M260.7 94.6C262.1 94.7 266.2 94.9 269.0 95.1C271.7 95.3 274.5 95.5 277.3 95.8C280.0 96.1 282.8 96.2 285.5 96.9C288.1 97.5 290.7 98.8 293.2 99.8C295.8 100.8 298.4 101.8 300.9 102.9C303.5 103.9 306.0 105.1 308.6 106.2C311.1 107.3 313.6 108.5 316.1 109.6C318.7 110.6 321.2 111.6 323.8 112.5C326.4 113.5 329.0 114.3 331.6 115.3C334.2 116.2 336.7 117.2 339.3 118.1C341.9 119.0 344.5 119.9 347.1 120.7C349.7 121.5 352.3 122.3 355.0 123.0C357.6 123.8 360.3 124.5 363.0 125.2C365.7 125.9 368.3 126.5 371.0 127.2C373.7 127.9 376.4 128.5 379.1 129.1C381.8 129.7 384.5 130.2 387.2 130.7C390.0 131.1 392.7 131.5 395.5 131.9C398.2 132.3 400.9 132.7 403.7 133.0C406.4 133.4 409.2 133.7 411.9 134.0C414.7 134.3 417.4 134.6 420.2 134.8C422.9 135.1 425.7 135.3 428.5 135.5C431.2 135.7 434.0 135.9 436.7 136.1C439.5 136.3 443.6 136.6 445.0 136.7M259.4 96.3C260.8 96.4 265.0 96.8 267.8 97.0C270.6 97.3 273.4 97.5 276.2 97.8C279.0 98.2 281.8 98.4 284.5 99.1C287.2 99.9 289.8 101.1 292.4 102.2C295.0 103.3 297.6 104.4 300.1 105.5C302.7 106.7 305.2 107.9 307.8 109.1C310.3 110.3 312.8 111.6 315.4 112.8C317.9 113.9 320.5 115.0 323.0 116.1C325.6 117.2 328.2 118.2 330.7 119.3C333.3 120.3 335.8 121.5 338.4 122.5C340.9 123.6 343.5 124.7 346.0 125.7C348.6 126.6 351.3 127.5 353.9 128.4C356.6 129.3 359.2 130.1 361.9 130.9C364.6 131.7 367.3 132.5 370.0 133.2C372.7 134.0 375.4 134.7 378.2 135.3C380.9 136.0 383.7 136.6 386.4 137.1C389.2 137.6 392.0 138.1 394.8 138.5C397.6 139.0 400.3 139.4 403.1 139.8C405.9 140.2 408.7 140.6 411.5 141.0C414.3 141.3 417.1 141.7 419.9 142.0C422.6 142.3 425.4 142.7 428.2 142.9C431.0 143.2 433.8 143.5 436.6 143.8C439.4 144.1 443.6 144.5 445.0 144.6M258.0 98.1C259.5 98.2 263.8 98.6 266.6 98.9C269.5 99.2 272.3 99.4 275.2 99.8C278.0 100.3 280.9 100.6 283.6 101.4C286.3 102.2 288.9 103.5 291.5 104.6C294.2 105.8 296.8 107.0 299.3 108.2C301.9 109.4 304.5 110.7 307.0 112.0C309.6 113.3 312.1 114.7 314.6 116.0C317.1 117.3 319.7 118.5 322.2 119.7C324.8 120.9 327.4 122.1 329.9 123.3C332.4 124.5 334.9 125.8 337.4 127.0C339.9 128.3 342.4 129.5 345.0 130.6C347.6 131.8 350.2 132.8 352.8 133.8C355.5 134.8 358.2 135.7 360.9 136.6C363.5 137.6 366.3 138.4 369.0 139.3C371.7 140.1 374.5 140.9 377.3 141.6C380.0 142.3 382.8 143.0 385.6 143.6C388.4 144.1 391.3 144.6 394.1 145.1C396.9 145.6 399.7 146.1 402.6 146.6C405.4 147.0 408.2 147.5 411.0 147.9C413.9 148.4 416.7 148.8 419.5 149.2C422.3 149.6 425.2 150.0 428.0 150.4C430.8 150.8 433.7 151.1 436.5 151.5C439.3 151.9 443.6 152.4 445.0 152.6M256.7 99.8C258.2 100.0 262.5 100.5 265.4 100.8C268.3 101.1 271.2 101.4 274.1 101.9C277.0 102.3 279.9 102.8 282.7 103.6C285.4 104.5 288.0 105.9 290.7 107.1C293.3 108.3 296.0 109.6 298.5 110.9C301.1 112.2 303.7 113.6 306.2 115.0C308.8 116.4 311.3 117.8 313.8 119.2C316.4 120.6 318.9 122.0 321.5 123.3C324.0 124.7 326.5 126.0 329.0 127.3C331.5 128.7 334.0 130.1 336.5 131.5C339.0 132.9 341.4 134.3 344.0 135.6C346.5 136.9 349.1 138.1 351.7 139.2C354.4 140.3 357.1 141.4 359.8 142.4C362.5 143.4 365.2 144.4 368.0 145.3C370.7 146.2 373.5 147.1 376.3 147.9C379.1 148.7 382.0 149.4 384.8 150.0C387.7 150.6 390.5 151.2 393.4 151.7C396.3 152.3 399.1 152.8 402.0 153.3C404.9 153.9 407.7 154.4 410.6 154.9C413.5 155.4 416.3 155.9 419.2 156.4C422.0 156.9 424.9 157.4 427.8 157.8C430.7 158.3 433.5 158.7 436.4 159.2C439.3 159.6 443.6 160.3 445.0 160.5M255.4 101.6C256.9 101.8 261.3 102.3 264.2 102.7C267.2 103.1 270.2 103.4 273.1 103.9C276.0 104.4 278.9 104.9 281.7 105.9C284.5 106.8 287.2 108.2 289.8 109.5C292.5 110.8 295.1 112.2 297.7 113.6C300.4 115.0 302.9 116.4 305.5 117.9C308.0 119.4 310.5 121.0 313.1 122.5C315.6 124.0 318.1 125.4 320.7 126.9C323.2 128.4 325.7 129.8 328.2 131.3C330.7 132.9 333.1 134.5 335.5 136.0C338.0 137.5 340.4 139.1 342.9 140.6C345.4 142.0 348.0 143.3 350.7 144.6C353.3 145.9 356.0 147.0 358.7 148.1C361.4 149.3 364.2 150.3 367.0 151.3C369.8 152.3 372.6 153.3 375.4 154.1C378.2 155.0 381.1 155.7 384.0 156.4C386.9 157.1 389.8 157.7 392.7 158.3C395.6 158.9 398.5 159.5 401.4 160.1C404.3 160.7 407.2 161.3 410.1 161.9C413.0 162.5 415.9 163.0 418.8 163.6C421.7 164.2 424.7 164.7 427.6 165.3C430.5 165.8 433.4 166.4 436.3 166.9C439.2 167.4 443.5 168.2 445.0 168.5M254.1 103.4C255.6 103.6 260.1 104.1 263.1 104.6C266.1 105.0 269.1 105.3 272.0 105.9C275.0 106.5 278.0 107.1 280.8 108.1C283.6 109.1 286.3 110.6 289.0 112.0C291.7 113.3 294.3 114.7 296.9 116.2C299.6 117.7 302.1 119.3 304.7 120.9C307.3 122.4 309.8 124.1 312.3 125.7C314.8 127.3 317.4 128.9 319.9 130.5C322.4 132.1 324.9 133.7 327.3 135.4C329.8 137.0 332.2 138.8 334.6 140.5C337.0 142.2 339.4 143.9 341.9 145.5C344.4 147.1 346.9 148.6 349.6 150.0C352.2 151.4 354.9 152.7 357.7 153.9C360.4 155.1 363.2 156.3 366.0 157.3C368.8 158.4 371.6 159.5 374.5 160.4C377.4 161.3 380.3 162.1 383.2 162.9C386.1 163.6 389.1 164.3 392.0 164.9C395.0 165.6 397.9 166.2 400.9 166.8C403.8 167.5 406.8 168.2 409.7 168.9C412.6 169.5 415.6 170.2 418.5 170.8C421.5 171.5 424.4 172.1 427.3 172.7C430.3 173.4 433.2 174.0 436.2 174.6C439.1 175.2 443.5 176.1 445.0 176.4M252.8 105.1C254.3 105.3 258.9 106.0 261.9 106.4C264.9 106.9 268.0 107.3 271.0 107.9C274.0 108.6 277.0 109.3 279.8 110.4C282.7 111.5 285.4 113.0 288.1 114.4C290.8 115.8 293.5 117.3 296.1 118.9C298.8 120.5 301.4 122.1 303.9 123.8C306.5 125.5 309.0 127.2 311.6 128.9C314.1 130.6 316.6 132.3 319.1 134.1C321.6 135.8 324.1 137.6 326.5 139.4C328.9 141.2 331.2 143.1 333.6 145.0C336.0 146.8 338.3 148.7 340.8 150.5C343.3 152.2 345.9 153.9 348.5 155.4C351.1 156.9 353.8 158.3 356.6 159.6C359.3 161.0 362.1 162.2 365.0 163.4C367.8 164.5 370.7 165.7 373.6 166.7C376.5 167.6 379.4 168.5 382.4 169.3C385.3 170.1 388.3 170.8 391.3 171.5C394.3 172.2 397.3 172.9 400.3 173.6C403.3 174.3 406.3 175.1 409.2 175.8C412.2 176.6 415.2 177.3 418.2 178.0C421.2 178.7 424.1 179.5 427.1 180.2C430.1 180.9 433.1 181.6 436.1 182.3C439.0 183.0 443.5 184.0 445.0 184.4M251.4 106.9C253.0 107.1 257.6 107.8 260.7 108.3C263.8 108.8 266.9 109.2 269.9 110.0C273.0 110.7 276.0 111.5 278.9 112.6C281.8 113.8 284.5 115.4 287.3 116.8C290.0 118.3 292.7 119.9 295.3 121.6C298.0 123.2 300.6 125.0 303.2 126.7C305.7 128.5 308.3 130.3 310.8 132.1C313.3 134.0 315.8 135.8 318.3 137.7C320.8 139.6 323.2 141.4 325.6 143.4C328.0 145.4 330.3 147.5 332.7 149.5C335.0 151.5 337.3 153.6 339.8 155.4C342.2 157.3 344.8 159.1 347.4 160.8C350.0 162.4 352.8 163.9 355.5 165.4C358.3 166.8 361.1 168.2 364.0 169.4C366.8 170.7 369.7 171.9 372.6 172.9C375.6 174.0 378.6 174.9 381.6 175.8C384.6 176.7 387.6 177.3 390.6 178.1C393.7 178.9 396.7 179.6 399.7 180.4C402.8 181.2 405.8 182.0 408.8 182.8C411.8 183.6 414.8 184.4 417.8 185.2C420.9 186.0 423.9 186.8 426.9 187.6C429.9 188.4 432.9 189.2 435.9 190.0C439.0 190.8 443.5 191.9 445.0 192.3" fill="none" stroke="url(#gStr)" stroke-width="0.95"/>
</g>
<path d="M290.0 121.7C292.8 123.7 301.4 129.2 307.0 133.4C312.6 137.6 318.1 142.0 323.6 146.8C329.1 151.6 335.0 157.8 340.0 162.0C345.0 166.2 348.2 169.0 353.5 172.0C358.8 175.0 365.1 178.8 372.0 180.0C378.9 181.2 388.7 178.2 395.0 179.0C401.3 179.8 404.6 182.3 410.0 185.0C415.4 187.7 421.7 192.9 427.5 195.4C433.3 197.9 442.1 199.2 445.0 200.0" fill="none" stroke="#8c3d45" stroke-width="1.2"/>

<!-- bursa -->
<path d="M111.5 204.0C111.1 203.1 109.4 201.3 109.0 198.7C108.6 196.1 108.8 192.9 109.3 188.5C109.8 184.1 110.9 177.9 112.3 172.0C113.7 166.1 116.0 157.9 117.5 153.0C119.0 148.1 119.7 146.2 121.4 142.5C123.2 138.8 124.9 134.8 128.0 130.5C131.1 126.2 136.6 120.5 140.0 116.7C143.4 112.9 145.5 110.3 148.3 107.5C151.1 104.7 153.9 102.2 156.7 100.0C159.5 97.8 162.2 96.0 165.0 94.2C167.8 92.4 170.5 90.7 173.3 89.2C176.1 87.7 178.9 86.5 181.7 85.4C184.5 84.3 187.1 83.3 190.0 82.5C192.9 81.7 195.9 81.3 199.0 80.8C202.1 80.3 204.6 80.3 208.6 79.6C212.6 78.8 218.2 77.1 222.9 76.3C227.6 75.5 232.5 74.8 237.0 74.5C241.5 74.2 245.3 74.4 250.0 74.5C254.7 74.6 260.2 75.0 265.0 75.2C269.8 75.4 275.2 75.1 278.6 75.7C282.1 76.3 283.9 77.0 285.7 78.6C287.5 80.1 289.2 82.9 289.3 85.0C289.4 87.1 286.9 90.3 286.4 91.4C285.1 91.8 282.3 93.4 278.6 93.6C274.9 93.8 269.1 92.9 264.3 92.5C259.5 92.1 254.1 91.5 250.0 91.4C245.9 91.3 243.3 91.4 240.0 91.8C236.7 92.2 235.2 92.7 230.0 93.6C224.8 94.5 213.6 96.3 208.6 97.3C203.6 98.3 203.1 98.6 200.0 99.5C196.9 100.4 193.1 101.3 190.0 102.5C186.9 103.7 184.5 105.1 181.7 106.7C178.9 108.3 176.1 109.9 173.3 112.0C170.5 114.1 167.9 116.9 165.0 119.5C162.1 122.1 159.1 124.4 156.0 127.5C152.9 130.6 149.3 134.1 146.6 138.0C143.9 141.9 142.1 146.7 140.0 151.0C137.9 155.3 136.0 159.4 133.8 164.0C131.6 168.6 129.7 173.1 127.0 178.5C124.3 183.9 120.0 192.3 117.4 196.6C114.8 200.8 112.5 202.8 111.5 204.0Z" fill="#6dcff6" stroke="#1d6a78" stroke-width="1.7" stroke-linejoin="round"/>
<path d="M121.0 173.0C121.1 172.2 120.4 171.6 121.5 168.0C122.6 164.4 124.8 157.6 127.7 151.7C130.6 145.8 135.2 137.8 139.0 132.5C142.8 127.2 147.9 123.2 150.8 120.0C153.8 116.8 154.3 115.5 156.7 113.3C159.1 111.1 162.2 108.7 165.0 106.7C167.8 104.7 170.5 102.8 173.3 101.3C176.1 99.8 178.9 98.7 181.7 97.5C184.5 96.3 187.1 95.2 190.0 94.2C192.9 93.2 195.9 92.1 199.0 91.2C202.1 90.3 203.4 89.8 208.6 88.8C213.8 87.8 223.1 86.0 230.0 85.3C236.9 84.5 242.3 84.5 250.0 84.3C257.7 84.1 272.0 84.3 276.4 84.3" fill="none" stroke="#b9e5f8" stroke-width="4.4" stroke-linecap="round"/>
<path d="M121.0 173.0C121.1 172.2 120.4 171.6 121.5 168.0C122.6 164.4 124.8 157.6 127.7 151.7C130.6 145.8 135.2 137.8 139.0 132.5C142.8 127.2 147.9 123.2 150.8 120.0C153.8 116.8 154.3 115.5 156.7 113.3C159.1 111.1 162.2 108.7 165.0 106.7C167.8 104.7 170.5 102.8 173.3 101.3C176.1 99.8 178.9 98.7 181.7 97.5C184.5 96.3 187.1 95.2 190.0 94.2C192.9 93.2 195.9 92.1 199.0 91.2C202.1 90.3 203.4 89.8 208.6 88.8C213.8 87.8 223.1 86.0 230.0 85.3C236.9 84.5 242.3 84.5 250.0 84.3C257.7 84.1 272.0 84.3 276.4 84.3" fill="none" stroke="#1790bb" stroke-width="2.9" stroke-linecap="round"/>

<!-- capsule -->
<path d="M150.5 161.0C150.6 160.6 150.8 160.2 151.3 158.4C151.8 156.6 151.9 153.7 153.3 150.4C154.8 147.1 157.3 142.2 160.0 138.5C162.7 134.8 165.9 131.4 169.2 128.5C172.5 125.6 175.8 123.4 179.8 121.2C183.8 119.0 189.6 116.7 193.0 115.3C196.4 113.9 195.5 114.0 200.0 113.0C204.5 112.0 213.3 109.8 220.0 109.0C226.7 108.2 233.9 108.4 240.0 108.4C246.1 108.4 251.1 108.4 256.7 109.2C262.3 110.0 267.8 111.3 273.4 113.4C278.9 115.5 284.4 118.4 290.0 121.7C295.6 125.0 301.4 129.2 307.0 133.4C312.6 137.6 318.1 142.0 323.6 146.8C329.1 151.6 335.0 157.8 340.0 162.0C345.0 166.2 349.8 169.2 353.5 172.0C357.2 174.8 358.9 177.0 362.0 179.0C365.1 181.0 370.3 183.2 372.0 184.0L372 200L358 300L357 322C357.1 323.8 360.2 330.5 357.5 332.5C354.8 334.5 346.2 332.8 341.0 333.8C335.8 334.8 330.4 336.3 326.5 338.3C322.6 340.3 319.4 343.2 317.5 346.0C315.6 348.8 315.9 351.6 315.3 355.0C314.8 358.4 314.9 362.6 314.2 366.4C313.4 370.2 312.9 374.4 310.8 377.6C308.7 380.8 305.4 383.8 301.8 385.5C298.2 387.2 293.3 388.2 289.4 387.8C285.5 387.4 281.6 385.8 278.2 383.3C274.8 380.8 271.8 376.4 269.2 373.0C266.6 369.6 264.4 366.5 262.5 363.0C260.6 359.5 258.8 353.8 258.0 352.0L275 330L200 250L155 165Z" fill="#f48cc0" stroke="#c9508c" stroke-width="0.8"/>
<path d="M160.0 161.0C160.0 160.1 159.5 158.4 160.0 155.7C160.5 153.0 161.4 148.3 163.2 145.0C164.9 141.7 167.7 138.6 170.5 135.8C173.3 133.1 176.1 130.8 179.8 128.5C183.6 126.2 189.6 123.3 193.0 121.9C196.4 120.5 195.5 120.5 200.0 119.9C204.5 119.3 213.3 118.4 220.0 118.3C226.7 118.2 234.0 119.0 240.0 119.5C246.0 120.0 250.4 120.3 256.0 121.5C261.6 122.7 267.7 124.5 273.4 126.8C279.1 129.1 284.4 131.1 290.0 135.0C295.6 138.9 302.5 145.5 307.0 150.0C311.5 154.5 314.2 158.7 317.0 162.0C319.8 165.3 320.6 167.3 323.6 170.0C326.6 172.7 330.6 176.2 335.0 178.0C339.4 179.8 344.8 180.3 350.0 181.0C355.2 181.7 363.3 181.8 366.0 182.0L366 200L356 300L354 322C352.5 317.4 348.2 318.7 345.0 319.5C341.8 320.3 338.2 320.8 335.0 322.0C331.8 323.2 328.8 324.5 326.0 326.5C323.2 328.5 320.5 331.2 318.0 334.0C315.5 336.8 312.7 340.0 311.0 343.0C309.3 346.0 308.2 348.8 307.6 352.0C307.0 355.2 308.2 358.5 307.6 362.0C307.0 365.5 306.3 370.2 304.0 373.0C301.7 375.8 297.4 378.6 294.0 378.8C290.6 379.0 286.8 376.8 283.8 374.3C280.8 371.8 278.1 367.6 276.0 364.0C273.9 360.4 272.8 356.2 271.5 353.0C270.2 349.8 268.6 346.3 268.0 345.0L280 330L200 250L165 165Z" fill="#ef4fa0"/>
<path d="M322 330C331 326 343 324.5 355 326M318 337C328 331.5 342 329 356.5 329.5" fill="none" stroke="#e2489c" stroke-width="1.1"/>
<path d="M168.5 159.0C168.4 158.4 167.9 157.1 167.9 155.7C167.9 154.3 167.6 152.6 168.5 150.4C169.4 148.2 170.9 145.1 173.2 142.4C175.5 139.8 179.1 136.8 182.4 134.5C185.7 132.2 190.1 129.9 193.0 128.5C195.9 127.1 196.3 126.6 200.0 125.9C203.7 125.2 210.0 124.7 215.0 124.3C220.0 123.9 225.8 123.5 230.0 123.5C234.2 123.5 234.2 123.3 240.0 124.0C245.8 124.7 258.0 125.8 265.0 127.6C272.0 129.4 276.2 131.5 281.8 135.0C287.4 138.5 293.6 144.3 298.5 148.5C303.4 152.7 308.0 156.2 311.4 160.0C314.8 163.8 316.9 168.3 318.6 171.4C320.3 174.5 320.7 176.7 321.8 178.6C322.9 180.5 324.3 181.5 325.5 183.0C326.7 184.5 328.0 186.3 328.8 187.7C329.7 189.1 330.2 189.9 330.7 191.2C331.3 192.5 331.7 194.1 332.0 195.4C332.3 196.8 332.3 198.0 332.7 199.1C333.1 200.3 333.9 201.4 334.3 202.4C334.7 203.4 334.8 203.8 335.1 205.2C335.5 206.7 336.1 209.7 336.3 211.0C336.6 212.3 336.1 211.8 336.5 213.1C337.0 214.4 338.4 217.3 339.1 218.6C339.8 219.9 339.7 220.0 340.6 220.7C341.4 221.3 343.2 221.7 344.1 222.6C344.9 223.6 345.7 225.3 345.8 226.5C345.9 227.6 344.8 228.3 344.7 229.8C344.5 231.3 345.3 234.0 345.1 235.4C345.0 236.9 343.9 237.4 343.7 238.5C343.5 239.5 343.9 240.6 343.7 241.6C343.5 242.6 343.0 243.3 342.6 244.5C342.1 245.7 340.8 247.2 340.9 248.7C341.0 250.1 343.0 251.6 343.2 253.0C343.4 254.4 342.3 256.0 341.9 257.2C341.6 258.4 341.2 258.8 341.1 260.1C341.0 261.4 341.5 263.5 341.4 264.9C341.3 266.3 340.5 267.1 340.3 268.4C340.2 269.8 340.7 271.9 340.6 273.0C340.6 274.1 340.0 274.2 340.0 275.1C340.1 276.0 340.9 277.0 341.1 278.4C341.2 279.9 341.1 282.4 340.8 283.8C340.4 285.1 339.8 285.6 339.1 286.7C338.4 287.8 337.8 289.1 336.8 290.4C335.8 291.8 334.0 293.4 333.0 295.0C332.0 296.6 332.3 298.5 331.0 300.0C329.7 301.5 326.5 302.5 325.0 304.0C323.5 305.5 321.7 307.7 322.0 309.0C322.3 310.3 327.3 310.8 327.0 312.0C326.7 313.2 321.7 314.2 320.0 316.0C318.3 317.8 317.5 321.8 317.0 323.0C316.0 324.2 312.9 326.7 311.0 330.0C309.1 333.3 306.4 338.0 305.5 343.0C304.6 348.0 306.1 355.8 305.5 360.0C304.9 364.2 303.4 366.0 302.0 368.0C300.6 370.0 299.0 371.2 297.0 372.0C295.0 372.8 292.2 373.2 290.0 372.5C287.8 371.8 285.8 370.1 284.0 368.0C282.2 365.9 280.5 363.5 279.0 360.0C277.5 356.5 275.3 351.0 275.0 347.0C274.7 343.0 275.8 338.8 277.0 336.0C278.2 333.2 279.5 331.8 282.0 330.0C284.5 328.2 288.2 326.8 292.0 325.0C295.8 323.2 302.3 321.0 305.0 319.0C307.7 317.0 306.7 313.7 308.0 313.0C309.3 312.3 311.7 315.5 313.0 315.0C314.3 314.5 316.2 311.5 316.0 310.0C315.8 308.5 311.7 307.7 312.0 306.0C312.3 304.3 316.3 302.3 318.0 300.0C319.7 297.7 320.3 295.0 322.0 292.0C323.7 289.0 326.3 286.0 328.0 282.0C329.7 278.0 331.1 273.3 332.0 268.0C332.9 262.7 333.3 255.3 333.5 250.0C333.7 244.7 333.4 240.7 333.0 236.0C332.6 231.3 332.0 226.7 331.0 222.0C330.0 217.3 328.7 212.3 327.0 208.0C325.3 203.7 323.2 200.2 321.0 196.0C318.8 191.8 316.5 187.3 313.6 183.0C310.7 178.7 307.4 174.2 303.5 170.0C299.6 165.8 295.0 161.2 290.0 157.5C285.0 153.8 278.9 150.3 273.4 147.5C267.8 144.7 260.9 141.9 256.7 140.6C252.5 139.3 250.8 140.1 248.0 139.5C245.2 138.9 243.8 137.2 240.0 137.0C236.2 136.8 228.8 137.6 225.0 138.0C221.2 138.4 220.3 139.1 217.0 139.5C213.7 139.9 208.7 139.6 205.0 140.5C201.3 141.4 198.4 143.1 195.0 144.8C191.6 146.5 187.9 148.6 184.8 150.7C181.7 152.8 178.7 155.9 176.6 157.5C174.5 159.1 172.8 159.6 172.0 160.0Z" fill="#231f20"/>
<path d="M321.4 178.0C320.9 176.2 322.0 174.0 322.9 172.9C323.8 171.8 325.3 171.3 327.0 171.5C328.7 171.7 331.4 173.2 332.9 174.3C334.4 175.4 335.1 176.4 336.0 178.0C336.9 179.6 337.9 181.3 338.6 184.0C339.3 186.7 339.5 190.8 340.0 194.0C340.5 197.2 341.3 200.5 341.5 203.0C341.7 205.5 341.6 208.7 341.0 209.0C340.4 209.3 339.0 206.8 338.0 205.0C337.0 203.2 336.2 200.5 335.0 198.0C333.8 195.5 332.5 192.4 331.0 190.0C329.5 187.6 327.6 185.5 326.0 183.5C324.4 181.5 321.9 179.8 321.4 178.0Z" fill="#ee4fa3" stroke="#b8348a" stroke-width="1"/>
<path d="M303.5 174.0C304.9 175.7 309.1 180.0 312.0 184.0C314.9 188.0 318.5 193.0 321.0 198.0C323.5 203.0 325.3 207.5 327.0 214.0C328.7 220.5 330.5 229.7 331.0 237.0C331.5 244.3 330.8 251.7 330.0 258.0C329.2 264.3 327.5 270.2 326.0 275.0C324.5 279.8 323.2 283.0 321.0 287.0C318.8 291.0 315.7 296.0 313.0 299.0C310.3 302.0 306.8 303.3 305.0 305.0C303.2 306.7 302.9 308.3 302.5 309.0" fill="none" stroke="#ef4fa0" stroke-width="5.5" stroke-linecap="round"/>
<path d="M173.6 159.4C174.1 159.0 174.7 158.1 176.6 156.8C178.5 155.5 181.7 153.3 184.8 151.7C187.9 150.1 189.5 148.7 195.0 147.0C200.5 145.3 210.5 142.7 218.0 141.5C225.5 140.3 236.3 140.1 240.0 139.8" fill="none" stroke="#ef4fa0" stroke-width="8" stroke-linecap="butt"/>
<path d="M218.0 141.5C221.7 141.2 233.6 139.8 240.0 139.8C246.4 139.9 251.1 140.2 256.7 141.8C262.3 143.4 270.6 148.1 273.4 149.3" fill="none" stroke="#ef4fa0" stroke-width="9" stroke-linecap="round"/>
<path d="M256.7 141.8C259.5 143.1 267.8 145.9 273.4 149.3C278.9 152.7 287.2 159.9 290.0 162.0" fill="none" stroke="#ef4fa0" stroke-width="9.5" stroke-linecap="round"/>
<path d="M288.5 160.8C289.1 161.3 290.9 162.8 292.1 163.8C293.4 164.8 294.6 165.8 295.7 166.8C296.9 167.9 298.1 168.9 299.3 170.0C300.5 171.1 302.2 172.7 302.7 173.2" fill="none" stroke="#ef4fa0" stroke-width="8" stroke-linecap="round"/>
<path d="M299.3 170.0C299.9 170.5 301.6 172.1 302.7 173.2C303.9 174.4 304.9 175.5 306.0 176.7C307.0 177.8 308.0 179.1 309.0 180.3C310.0 181.5 311.5 183.4 312.0 184.0" fill="none" stroke="#ef4fa0" stroke-width="6.5" stroke-linecap="round"/>

<!-- humerus -->
<path d="M173.6 159.4C174.1 159.0 174.7 158.1 176.6 156.8C178.5 155.5 181.7 153.3 184.8 151.7C187.9 150.1 189.5 148.7 195.0 147.0C200.5 145.3 210.5 142.7 218.0 141.5C225.5 140.3 233.6 139.8 240.0 139.8C246.4 139.9 251.1 140.2 256.7 141.8C262.3 143.4 267.8 145.9 273.4 149.3C278.9 152.7 285.0 157.9 290.0 162.0C295.0 166.1 299.8 170.3 303.5 174.0C307.2 177.7 309.1 180.0 312.0 184.0C314.9 188.0 318.5 193.0 321.0 198.0C323.5 203.0 325.3 207.5 327.0 214.0C328.7 220.5 330.5 229.7 331.0 237.0C331.5 244.3 330.8 251.7 330.0 258.0C329.2 264.3 327.5 270.2 326.0 275.0C324.5 279.8 323.2 283.0 321.0 287.0C318.8 291.0 315.7 296.0 313.0 299.0C310.3 302.0 306.8 303.3 305.0 305.0C303.2 306.7 302.5 307.3 302.5 309.0C302.5 310.7 305.4 313.2 305.0 315.0C304.6 316.8 302.5 318.3 300.0 320.0C297.5 321.7 293.3 323.3 290.0 325.0C286.7 326.7 282.7 328.0 280.0 330.0C277.3 332.0 276.8 332.5 274.0 337.0C271.2 341.5 267.0 348.2 263.0 357.0C259.0 365.8 253.3 380.7 250.0 390.0C246.7 399.3 244.8 406.0 243.0 413.0C241.2 420.0 239.7 428.8 239.0 432.0L117 432C117.3 428.8 118.1 420.0 119.0 413.0C119.9 406.0 121.3 397.7 122.5 390.0C123.7 382.3 125.2 374.5 126.0 366.7C126.8 358.9 127.2 349.9 127.2 343.0C127.2 336.1 126.7 330.5 126.0 325.0C125.3 319.5 124.3 316.3 123.0 310.0C121.7 303.7 119.5 297.2 118.0 287.0C116.5 276.8 114.4 260.6 114.0 248.6C113.6 236.6 114.7 223.7 115.4 215.0C116.2 206.3 117.1 201.7 118.5 196.6C119.9 191.5 121.4 188.5 123.6 184.4C125.8 180.3 129.1 175.3 131.7 172.0C134.2 168.7 136.2 166.3 138.9 164.5C141.6 162.7 144.1 161.7 148.0 161.0C151.9 160.3 158.6 160.5 162.3 160.5C166.0 160.5 168.1 161.2 170.0 161.0C171.9 160.8 173.0 159.7 173.6 159.4Z" fill="#e8ded0"/>
<g clip-path="url(#cSpg)">
<use href="#bH" fill="none" stroke="#ab9171" stroke-width="3.0" stroke-linecap="round"/>
<use href="#bH" fill="none" stroke="#d0bb9a" stroke-width="1.9" stroke-linecap="round"/>
<use href="#bH2" fill="none" stroke="#ab9171" stroke-width="3.7" stroke-linecap="round"/>
<use href="#bH2" fill="none" stroke="#d0bb9a" stroke-width="2.5" stroke-linecap="round"/>
<path d="M121.0 241.0C121.8 240.8 122.3 241.1 125.5 239.5C128.7 237.9 134.8 233.8 140.0 231.5C145.2 229.2 151.2 227.1 156.5 225.5C161.8 223.9 166.8 222.9 172.0 222.0C177.2 221.1 182.4 220.4 187.6 220.0C192.8 219.6 197.8 219.3 203.0 219.5C208.2 219.7 213.6 219.9 218.6 221.0C223.6 222.1 228.5 223.9 233.0 226.0C237.5 228.1 241.3 230.6 245.8 233.5C250.3 236.4 255.5 239.8 260.0 243.5C264.5 247.2 268.9 251.2 273.0 256.0C277.1 260.8 281.7 266.8 284.5 272.0C287.3 277.2 288.8 283.0 290.0 287.0C291.2 291.0 291.7 294.5 292.0 296.0" fill="none" stroke="#ece3d6" stroke-width="7.5" stroke-linecap="round"/>
<path d="M161.0 436.0C161.1 432.8 161.1 421.2 161.7 416.7C162.3 412.2 164.2 411.2 164.5 409.0C164.8 406.8 164.3 405.4 163.3 403.3C162.3 401.2 158.8 398.4 158.3 396.7C157.8 395.0 159.7 394.1 160.5 393.0C161.3 391.9 163.0 391.3 163.3 390.0C163.6 388.7 163.1 386.4 162.5 385.0C161.9 383.6 159.9 383.0 160.0 381.7C160.1 380.4 161.9 378.1 163.0 377.0C164.1 375.9 165.9 376.2 166.7 375.0C167.4 373.8 167.8 371.4 167.5 370.0C167.2 368.6 164.9 367.8 165.0 366.7C165.1 365.6 166.9 364.3 168.0 363.5C169.1 362.7 171.2 362.6 171.7 361.7C172.2 360.8 171.6 359.1 171.0 358.0C170.4 356.9 168.3 356.3 168.3 355.0C168.3 353.7 169.6 351.3 171.0 350.0C172.4 348.7 175.2 348.4 176.7 347.3C178.2 346.2 178.9 344.2 180.0 343.5C181.1 342.8 182.1 342.8 183.3 343.3C184.6 343.8 186.1 345.8 187.5 346.5C188.9 347.2 190.5 347.8 191.7 347.3C192.9 346.8 193.4 344.4 194.5 343.5C195.6 342.6 197.0 341.9 198.3 341.7C199.6 341.5 201.1 342.8 202.5 342.5C203.9 342.2 205.4 340.1 206.7 340.0C208.0 339.9 209.7 340.9 210.5 342.0C211.3 343.1 210.9 345.3 211.7 346.7C212.5 348.1 214.7 349.1 215.5 350.5C216.3 351.9 217.0 353.7 216.7 355.0C216.4 356.3 214.4 357.4 213.8 358.5C213.2 359.6 212.8 360.8 213.3 361.7C213.8 362.6 216.2 362.9 217.0 364.0C217.8 365.1 217.6 366.8 218.3 368.3C219.1 369.8 220.9 371.3 221.5 373.0C222.1 374.7 222.2 376.7 221.7 378.3C221.2 379.9 219.1 381.1 218.5 382.5C217.9 383.9 217.7 385.6 218.3 386.7C218.9 387.8 221.2 387.9 222.0 389.0C222.8 390.1 223.5 391.5 223.3 393.3C223.1 395.1 221.3 397.8 221.0 400.0C220.7 402.2 222.0 404.7 221.7 406.7C221.4 408.7 219.6 410.3 219.0 412.0C218.4 413.7 218.3 412.7 218.3 416.7C218.3 420.7 218.9 432.8 219.0 436.0Z" fill="#c4ac88" stroke="#b09672" stroke-width="0.8"/>
</g>
<path d="M173.6 159.4C174.1 159.0 174.7 158.1 176.6 156.8C178.5 155.5 181.7 153.3 184.8 151.7C187.9 150.1 189.5 148.7 195.0 147.0C200.5 145.3 210.5 142.7 218.0 141.5C225.5 140.3 233.6 139.8 240.0 139.8C246.4 139.9 251.1 140.2 256.7 141.8C262.3 143.4 267.8 145.9 273.4 149.3C278.9 152.7 285.0 157.9 290.0 162.0C295.0 166.1 299.8 170.3 303.5 174.0C307.2 177.7 309.1 180.0 312.0 184.0C314.9 188.0 318.5 193.0 321.0 198.0C323.5 203.0 325.3 207.5 327.0 214.0C328.7 220.5 330.5 229.7 331.0 237.0C331.5 244.3 330.8 251.7 330.0 258.0C329.2 264.3 327.5 270.2 326.0 275.0C324.5 279.8 323.2 283.0 321.0 287.0C318.8 291.0 315.7 296.0 313.0 299.0C310.3 302.0 306.8 303.3 305.0 305.0C303.2 306.7 302.5 307.3 302.5 309.0C302.5 310.7 305.4 313.2 305.0 315.0C304.6 316.8 302.5 318.3 300.0 320.0C297.5 321.7 293.3 323.3 290.0 325.0C286.7 326.7 282.7 328.0 280.0 330.0C277.3 332.0 276.8 332.5 274.0 337.0C271.2 341.5 267.0 348.2 263.0 357.0C259.0 365.8 253.3 380.7 250.0 390.0C246.7 399.3 244.8 406.0 243.0 413.0C241.2 420.0 239.7 428.8 239.0 432.0L117 432C117.3 428.8 118.1 420.0 119.0 413.0C119.9 406.0 121.3 397.7 122.5 390.0C123.7 382.3 125.2 374.5 126.0 366.7C126.8 358.9 127.2 349.9 127.2 343.0C127.2 336.1 126.7 330.5 126.0 325.0C125.3 319.5 124.3 316.3 123.0 310.0C121.7 303.7 119.5 297.2 118.0 287.0C116.5 276.8 114.4 260.6 114.0 248.6C113.6 236.6 114.7 223.7 115.4 215.0C116.2 206.3 117.1 201.7 118.5 196.6C119.9 191.5 121.4 188.5 123.6 184.4C125.8 180.3 129.1 175.3 131.7 172.0C134.2 168.7 136.2 166.3 138.9 164.5C141.6 162.7 144.1 161.7 148.0 161.0C151.9 160.3 158.6 160.5 162.3 160.5C166.0 160.5 168.1 161.2 170.0 161.0C171.9 160.8 173.0 159.7 173.6 159.4Z" fill="none" stroke="#765838" stroke-width="2.5" stroke-linejoin="round"/>

<!-- glenoid -->
<path d="M337.5 188.0C337.4 186.4 337.7 185.6 338.6 184.5C339.5 183.4 340.8 181.9 343.0 181.5C345.2 181.1 348.8 181.8 352.0 182.0C355.2 182.2 358.7 182.5 362.0 182.6C365.3 182.7 368.7 182.9 372.0 182.6C375.3 182.2 378.7 181.2 382.0 180.5C385.3 179.8 388.6 178.9 391.6 178.6C394.6 178.3 397.6 178.3 400.0 178.5C402.4 178.7 404.4 179.1 406.0 180.0C407.6 180.9 409.1 182.3 409.5 184.0C409.9 185.7 409.4 187.7 408.5 190.0C407.6 192.3 405.3 194.8 404.0 198.0C402.7 201.2 401.3 205.3 400.5 209.0C399.7 212.7 399.2 216.2 399.0 220.0C398.8 223.8 399.0 227.8 399.3 232.0C399.6 236.2 400.3 240.8 401.0 245.0C401.7 249.2 403.0 253.5 403.5 257.0C404.0 260.5 404.4 262.8 404.0 266.0C403.6 269.2 402.3 273.0 401.0 276.0C399.7 279.0 398.0 281.2 396.0 284.0C394.0 286.8 391.5 289.8 389.0 292.6C386.5 295.4 383.7 298.3 381.0 301.0C378.3 303.7 375.5 306.7 372.7 309.0C369.9 311.3 366.8 313.8 364.0 315.0C361.2 316.2 358.5 316.7 356.0 316.5C353.5 316.3 351.1 315.2 349.0 314.0C346.9 312.8 344.5 310.8 343.5 309.0C342.5 307.2 342.7 305.3 343.0 303.0C343.3 300.7 344.8 298.2 345.5 295.0C346.2 291.8 346.5 287.8 347.0 284.0C347.5 280.2 348.0 275.5 348.3 272.0C348.6 268.5 348.7 266.7 348.8 263.0C348.9 259.3 349.1 253.8 349.0 250.0C348.9 246.2 348.6 243.3 348.0 240.0C347.4 236.7 346.4 233.8 345.7 230.0C345.0 226.2 344.3 221.5 343.6 217.0C342.9 212.5 342.1 206.8 341.4 203.0C340.7 199.2 340.1 196.5 339.5 194.0C338.9 191.5 337.6 189.6 337.5 188.0Z" fill="#e8ded0" stroke="#765838" stroke-width="2.5" stroke-linejoin="round"/>
<g clip-path="url(#cGln)">
<use href="#bG" fill="none" stroke="#a88e6d" stroke-width="3.9" stroke-linecap="round"/>
<use href="#bG" fill="none" stroke="#d5c1a2" stroke-width="2.8" stroke-linecap="round"/>
</g>

<!-- AC joint -->
<path d="M279.0 37.0C280.0 32.2 281.7 33.4 284.0 31.5C286.3 29.6 289.5 27.2 293.0 25.5C296.5 23.8 301.2 22.2 305.0 21.3C308.8 20.4 311.8 20.2 316.0 20.2C320.2 20.2 325.2 20.2 330.0 21.5C334.8 22.8 340.8 25.7 345.0 28.0C349.2 30.3 353.2 33.2 355.5 35.5C357.8 37.8 358.6 37.9 359.0 42.0C359.4 46.1 358.5 54.0 358.0 60.0C357.5 66.0 356.9 73.8 356.0 78.0C355.1 82.2 354.7 83.1 352.5 85.0C350.3 86.9 346.8 88.2 343.0 89.5C339.2 90.8 333.6 92.5 330.0 92.9C326.4 93.3 324.5 92.7 321.4 92.1C318.3 91.5 315.0 90.7 311.4 89.3C307.8 87.9 303.6 85.5 300.0 83.6C296.4 81.7 292.9 79.1 290.0 78.0C287.1 76.9 284.9 80.0 282.9 77.0C280.9 74.0 278.6 66.7 278.0 60.0C277.4 53.3 278.0 41.8 279.0 37.0Z" fill="#ef4fa0"/>
<path d="M287 37C295 29 306 26 316.5 25.2C328 25.6 340 29 350 38" fill="none" stroke="#f57fbd" stroke-width="4.5" stroke-linecap="round"/>
<path d="M288 78.5C297 84 306 88 316 88.5C328 89 340 87.5 350 84" fill="none" stroke="#f57fbd" stroke-width="3.5" stroke-linecap="round"/>
<path d="M291.0 40.0C292.0 35.6 293.5 35.2 296.0 33.5C298.5 31.8 302.6 30.4 306.0 29.5C309.4 28.6 312.8 28.3 316.5 28.3C320.2 28.3 324.2 28.7 328.0 29.6C331.8 30.5 336.2 31.8 339.0 33.5C341.8 35.2 344.0 35.6 345.0 40.0C346.0 44.4 344.7 53.2 345.0 60.0C345.3 66.8 348.2 77.1 347.0 81.0C345.8 84.9 340.8 82.9 338.0 83.5C335.2 84.1 332.8 84.2 330.0 84.4C327.2 84.6 323.6 84.7 321.0 84.6C318.4 84.5 317.0 84.3 314.3 83.8C311.6 83.3 307.9 82.8 305.0 81.5C302.1 80.2 299.3 77.6 297.0 76.0C294.7 74.4 292.2 74.7 291.0 72.0C289.8 69.3 290.0 65.3 290.0 60.0C290.0 54.7 290.0 44.4 291.0 40.0Z" fill="#231f20"/>
<path d="M304 36L306 33.2L313.4 34.6L312 38L313.3 42L311.8 46L313.1 50L311.7 54L313.1 58L311.8 62L313.3 66L312.2 70L313.8 74.2L304.5 73.5L303 68Z" fill="#ef4fa0"/>
<path d="M326 38L324 33.2L316.3 35L317 38L315.7 42L317.1 46L315.8 50L317.3 54L315.9 58L317.2 62L316 66L317.5 70L316.6 73.6L323.5 77L326 72Z" fill="#ef4fa0"/>
<!-- acromion -->
<path d="M186.4 72.9C186.5 71.0 187.7 68.0 189.0 66.0C190.3 64.0 191.0 62.8 194.3 60.7C197.6 58.6 203.8 55.7 208.6 53.6C213.4 51.5 218.2 49.6 222.9 47.9C227.7 46.2 232.3 44.9 237.1 43.6C241.8 42.3 245.1 41.6 251.4 40.3C257.7 39.0 267.4 37.2 275.0 36.0C282.6 34.8 292.3 33.4 297.0 32.9C301.7 32.4 301.3 32.6 303.0 33.1C304.7 33.6 306.1 34.4 307.2 35.6C308.3 36.8 308.9 38.1 309.4 40.5C309.9 42.9 310.4 46.5 310.3 50.0C310.2 53.5 309.1 58.7 308.6 61.4C308.1 64.1 308.0 64.7 307.5 66.0C307.0 67.3 306.6 68.3 305.7 69.3C304.8 70.3 303.4 71.4 302.0 72.0C300.6 72.6 300.9 72.6 297.0 72.9C293.1 73.2 284.8 73.6 278.6 73.6C272.4 73.6 264.5 73.0 260.0 72.9C255.5 72.8 255.2 72.8 251.4 72.9C247.6 73.0 241.8 73.1 237.1 73.6C232.3 74.1 227.7 74.8 222.9 75.7C218.2 76.7 212.7 78.5 208.6 79.3C204.5 80.1 201.4 80.5 198.6 80.7C195.8 80.9 193.7 80.8 192.0 80.3C190.3 79.8 189.4 78.7 188.5 77.5C187.6 76.3 186.3 74.8 186.4 72.9Z" fill="#e8ded0" stroke="#7b5d3c" stroke-width="2.2" stroke-linejoin="round"/>
<g clip-path="url(#cAcr)">
<use href="#bA" fill="none" stroke="#a88e6d" stroke-width="3.9" stroke-linecap="round"/>
<use href="#bA" fill="none" stroke="#d5c1a2" stroke-width="2.8" stroke-linecap="round"/>
</g>
<!-- clavicle -->
<path d="M319.5 35.5C319.8 35.3 319.6 34.3 321.4 34.3C323.1 34.2 327.1 34.9 330.0 35.2C332.9 35.6 333.6 35.5 338.6 36.4C343.6 37.3 354.1 39.4 360.0 40.7C365.9 42.0 369.3 43.1 374.3 44.3C379.3 45.5 384.9 46.7 390.0 47.9C395.1 49.1 398.8 50.1 405.0 51.5C411.2 52.9 420.0 54.7 427.5 56.3C435.0 57.9 446.2 60.2 450.0 61.0L450 99C446.2 98.2 435.0 95.9 427.5 94.5C420.0 93.1 412.9 92.1 405.0 90.7C397.1 89.3 387.5 87.5 380.0 86.3C372.5 85.0 365.5 84.0 360.0 83.2C354.5 82.4 350.6 81.9 347.0 81.3C343.4 80.7 341.2 80.5 338.6 79.8C336.0 79.1 333.7 77.8 331.4 77.0C329.1 76.2 326.7 75.7 325.0 75.0C323.3 74.3 322.3 74.2 321.4 72.9C320.4 71.6 319.8 70.3 319.3 67.0C318.8 63.7 318.4 57.6 318.3 52.9C318.2 48.2 318.4 41.5 318.6 38.6C318.8 35.7 319.4 36.0 319.5 35.5Z" fill="#e8ded0" stroke="#7b5d3c" stroke-width="2.2" stroke-linejoin="round"/>
<g clip-path="url(#cClv)">
<use href="#bC" fill="none" stroke="#a88e6d" stroke-width="3.9" stroke-linecap="round"/>
<use href="#bC" fill="none" stroke="#d5c1a2" stroke-width="2.8" stroke-linecap="round"/>
</g>

<!-- fades -->
<rect x="415" y="30" width="45" height="400" fill="url(#gFadeR)"/>
<rect x="0" y="388" width="460" height="46" fill="url(#gFadeB)"/>

<!-- label lines -->
<g fill="none">
<path d="M338 199.7H432M330.7 214L372 199.7M338 262.8H432M305 348.5H432M292 382H432" stroke="#fff" stroke-width="2.9" opacity="0.85"/>
<path d="M338 199.7H460M330.7 214L372 199.7M338 262.8H460M305 348.5H460M292 382H460" stroke="#231f20" stroke-width="1.6"/>
</g>
<g fill="#231f20" stroke="#fff" stroke-width="0.7">
<circle cx="338" cy="199.7" r="2.5"/><circle cx="330.7" cy="214" r="2.5"/><circle cx="338" cy="262.8" r="2.5"/><circle cx="305" cy="348.5" r="2.5"/><circle cx="292" cy="382" r="2.5"/>
</g>

<!-- logo -->
<g>
<path d="M595.5 28.8C588 24.5 577 26 571.5 34C566 42 567 54 575 60.5C582 66 593 65 599 59.5C591 62.5 581.5 60 578 52.5C574.5 44 580 33 595.5 28.8Z" fill="#1a1a1a"/>
<path d="M550.7 32.5C549.5 38 548.6 42 547.8 46.5C551 48 554.5 48.3 557.5 47.5C554.5 43 552.3 38 550.7 32.5Z" fill="#1a1a1a"/>
<path d="M540 45.3C543 47.5 546.5 48.6 549.8 48.8C553.5 49 557 48.6 560 47.2C562.6 45.8 564 43 565.4 40.6C566.4 38.8 567.6 37.2 569.3 36.6C571 36.4 572.4 37.4 573.4 38.8C574.8 40.6 575.6 42.6 576.1 44.8C576.9 47.6 577 50.2 576.7 52.8C576.5 55.6 575.9 58.4 574.6 60.8C573.3 62.6 571.4 63.6 569.3 64.1C567 64.7 564.8 64.9 562.6 64.7C560.2 64.3 558 63 556 61.3C553 59 550.4 56.6 548 54C545 51 542.4 48.2 540 45.3Z" fill="url(#gLeaf)"/>
<path d="M552.5 58C556 60.6 560 61.7 564 61.5C568 61.3 571.5 60.3 573.6 58.7C575.3 57.3 576.2 55.6 576.6 53.8" fill="none" stroke="#eef8dc" stroke-width="0.8"/>
<circle cx="585.3" cy="44" r="6.4" fill="url(#gBall)"/>
</g>

<!-- text -->
<g font-family="'Liberation Sans', sans-serif" font-size="14.5" fill="#231f20">
<text x="463.5" y="204" textLength="107" lengthAdjust="spacingAndGlyphs">Loss of articular</text>
<text x="463.5" y="223.7" textLength="58.5" lengthAdjust="spacingAndGlyphs">cartilage</text>
<text x="463.5" y="264.8" font-weight="bold" textLength="62" lengthAdjust="spacingAndGlyphs">Reduced</text>
<text x="463.5" y="284.8" font-weight="bold" textLength="77.5" lengthAdjust="spacingAndGlyphs">joint space</text>
<text x="463.5" y="332.7" textLength="74.5" lengthAdjust="spacingAndGlyphs">Inflammed</text>
<text x="463.5" y="352.7" textLength="135.5" lengthAdjust="spacingAndGlyphs">synovial membrane</text>
<text x="463.5" y="385.5" textLength="110" lengthAdjust="spacingAndGlyphs">Inflammed joint</text>
<text x="463.5" y="405.2" textLength="52.5" lengthAdjust="spacingAndGlyphs">capsule</text>
<text x="31.7" y="449.3" font-weight="bold" textLength="234.7" lengthAdjust="spacingAndGlyphs">Diseased shoulder joint anatomy</text>
<text x="31.7" y="469"><tspan font-weight="bold" textLength="177.6" lengthAdjust="spacingAndGlyphs">with severe cartilage loss</tspan><tspan x="213.5" textLength="114.8" lengthAdjust="spacingAndGlyphs">(in cross section)</tspan></text>
</g>
</svg></body></html>
